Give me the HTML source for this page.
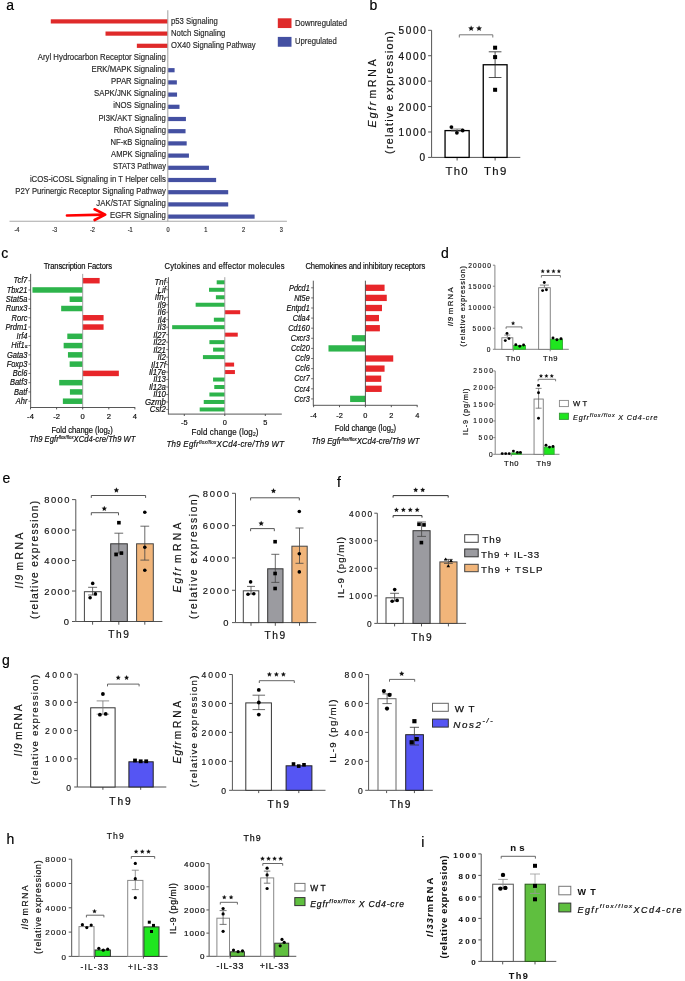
<!DOCTYPE html>
<html><head><meta charset="utf-8"><style>
html,body{margin:0;padding:0;background:#fff;}
svg{display:block;font-family:"Liberation Sans", sans-serif;filter:blur(0.3px);}
</style></head><body>
<svg width="685" height="981" viewBox="0 0 685 981">
<rect width="685" height="981" fill="#fff"/>
<text x="6.20" y="10.00" font-size="14" fill="#000" stroke="#000" stroke-width="0.18">a</text>
<rect x="50.78" y="19.30" width="117.03" height="4.20" fill="#df2a2a"/>
<text x="194.32" y="24.10" font-size="9.0" textLength="53.07" lengthAdjust="spacingAndGlyphs" fill="#2a2a2a" transform="scale(0.88,1)" stroke="#2a2a2a" stroke-width="0.18">p53 Signaling</text>
<rect x="105.51" y="31.50" width="62.29" height="4.20" fill="#df2a2a"/>
<text x="194.32" y="36.30" font-size="9.0" textLength="61.70" lengthAdjust="spacingAndGlyphs" fill="#2a2a2a" transform="scale(0.88,1)" stroke="#2a2a2a" stroke-width="0.18">Notch Signaling</text>
<rect x="136.85" y="43.70" width="30.95" height="4.20" fill="#df2a2a"/>
<text x="194.32" y="48.50" font-size="9.0" textLength="96.25" lengthAdjust="spacingAndGlyphs" fill="#2a2a2a" transform="scale(0.88,1)" stroke="#2a2a2a" stroke-width="0.18">OX40 Signaling Pathway</text>
<text x="188.52" y="59.60" font-size="9.0" text-anchor="end" textLength="145.57" lengthAdjust="spacingAndGlyphs" fill="#2a2a2a" transform="scale(0.88,1)" stroke="#2a2a2a" stroke-width="0.18">Aryl Hydrocarbon Receptor Signaling</text>
<rect x="167.80" y="68.10" width="6.79" height="4.20" fill="#4450a2"/>
<text x="188.52" y="71.80" font-size="9.0" text-anchor="end" textLength="84.55" lengthAdjust="spacingAndGlyphs" fill="#2a2a2a" transform="scale(0.88,1)" stroke="#2a2a2a" stroke-width="0.18">ERK/MAPK Signaling</text>
<rect x="167.80" y="80.30" width="9.06" height="4.20" fill="#4450a2"/>
<text x="188.52" y="84.00" font-size="9.0" text-anchor="end" textLength="62.27" lengthAdjust="spacingAndGlyphs" fill="#2a2a2a" transform="scale(0.88,1)" stroke="#2a2a2a" stroke-width="0.18">PPAR Signaling</text>
<rect x="167.80" y="92.50" width="9.25" height="4.20" fill="#4450a2"/>
<text x="188.52" y="96.20" font-size="9.0" text-anchor="end" textLength="81.70" lengthAdjust="spacingAndGlyphs" fill="#2a2a2a" transform="scale(0.88,1)" stroke="#2a2a2a" stroke-width="0.18">SAPK/JNK Signaling</text>
<rect x="167.80" y="104.70" width="11.70" height="4.20" fill="#4450a2"/>
<text x="188.52" y="108.40" font-size="9.0" text-anchor="end" textLength="59.89" lengthAdjust="spacingAndGlyphs" fill="#2a2a2a" transform="scale(0.88,1)" stroke="#2a2a2a" stroke-width="0.18">iNOS Signaling</text>
<rect x="167.80" y="116.90" width="18.12" height="4.20" fill="#4450a2"/>
<text x="188.52" y="120.60" font-size="9.0" text-anchor="end" textLength="76.70" lengthAdjust="spacingAndGlyphs" fill="#2a2a2a" transform="scale(0.88,1)" stroke="#2a2a2a" stroke-width="0.18">PI3K/AKT Signaling</text>
<rect x="167.80" y="129.10" width="17.74" height="4.20" fill="#4450a2"/>
<text x="188.52" y="132.80" font-size="9.0" text-anchor="end" textLength="59.32" lengthAdjust="spacingAndGlyphs" fill="#2a2a2a" transform="scale(0.88,1)" stroke="#2a2a2a" stroke-width="0.18">RhoA Signaling</text>
<rect x="167.80" y="141.30" width="18.88" height="4.20" fill="#4450a2"/>
<text x="188.52" y="145.00" font-size="9.0" text-anchor="end" textLength="62.84" lengthAdjust="spacingAndGlyphs" fill="#2a2a2a" transform="scale(0.88,1)" stroke="#2a2a2a" stroke-width="0.18">NF-κB Signaling</text>
<rect x="167.80" y="153.50" width="21.14" height="4.20" fill="#4450a2"/>
<text x="188.52" y="157.20" font-size="9.0" text-anchor="end" textLength="62.27" lengthAdjust="spacingAndGlyphs" fill="#2a2a2a" transform="scale(0.88,1)" stroke="#2a2a2a" stroke-width="0.18">AMPK Signaling</text>
<rect x="167.80" y="165.70" width="41.15" height="4.20" fill="#4450a2"/>
<text x="188.52" y="169.40" font-size="9.0" text-anchor="end" textLength="60.23" lengthAdjust="spacingAndGlyphs" fill="#2a2a2a" transform="scale(0.88,1)" stroke="#2a2a2a" stroke-width="0.18">STAT3 Pathway</text>
<rect x="167.80" y="177.90" width="48.32" height="4.20" fill="#4450a2"/>
<text x="188.52" y="181.60" font-size="9.0" text-anchor="end" textLength="154.55" lengthAdjust="spacingAndGlyphs" fill="#2a2a2a" transform="scale(0.88,1)" stroke="#2a2a2a" stroke-width="0.18">iCOS-iCOSL Signaling in T Helper cells</text>
<rect x="167.80" y="190.10" width="60.40" height="4.20" fill="#4450a2"/>
<text x="188.52" y="193.80" font-size="9.0" text-anchor="end" textLength="171.14" lengthAdjust="spacingAndGlyphs" fill="#2a2a2a" transform="scale(0.88,1)" stroke="#2a2a2a" stroke-width="0.18">P2Y Purinergic Receptor Signaling Pathway</text>
<rect x="167.80" y="202.30" width="60.40" height="4.20" fill="#4450a2"/>
<text x="188.52" y="206.00" font-size="9.0" text-anchor="end" textLength="79.09" lengthAdjust="spacingAndGlyphs" fill="#2a2a2a" transform="scale(0.88,1)" stroke="#2a2a2a" stroke-width="0.18">JAK/STAT Signaling</text>
<rect x="167.80" y="214.50" width="86.82" height="4.20" fill="#4450a2"/>
<text x="188.52" y="218.20" font-size="9.0" text-anchor="end" textLength="63.41" lengthAdjust="spacingAndGlyphs" fill="#2a2a2a" transform="scale(0.88,1)" stroke="#2a2a2a" stroke-width="0.18">EGFR Signaling</text>
<line x1="167.80" y1="10.20" x2="167.80" y2="221.60" stroke="#a8a8a8" stroke-width="1.1"/>
<line x1="9.50" y1="221.30" x2="286.90" y2="221.30" stroke="#a8a8a8" stroke-width="1.1"/>
<text x="19.32" y="232.10" font-size="6.4" text-anchor="middle" fill="#2a2a2a" transform="scale(0.88,1)" stroke="#2a2a2a" stroke-width="0.18">-4</text>
<text x="62.22" y="232.10" font-size="6.4" text-anchor="middle" fill="#2a2a2a" transform="scale(0.88,1)" stroke="#2a2a2a" stroke-width="0.18">-3</text>
<text x="105.11" y="232.10" font-size="6.4" text-anchor="middle" fill="#2a2a2a" transform="scale(0.88,1)" stroke="#2a2a2a" stroke-width="0.18">-2</text>
<text x="148.01" y="232.10" font-size="6.4" text-anchor="middle" fill="#2a2a2a" transform="scale(0.88,1)" stroke="#2a2a2a" stroke-width="0.18">-1</text>
<text x="190.91" y="232.10" font-size="6.4" text-anchor="middle" fill="#2a2a2a" transform="scale(0.88,1)" stroke="#2a2a2a" stroke-width="0.18">0</text>
<text x="233.81" y="232.10" font-size="6.4" text-anchor="middle" fill="#2a2a2a" transform="scale(0.88,1)" stroke="#2a2a2a" stroke-width="0.18">1</text>
<text x="276.70" y="232.10" font-size="6.4" text-anchor="middle" fill="#2a2a2a" transform="scale(0.88,1)" stroke="#2a2a2a" stroke-width="0.18">2</text>
<text x="319.60" y="232.10" font-size="6.4" text-anchor="middle" fill="#2a2a2a" transform="scale(0.88,1)" stroke="#2a2a2a" stroke-width="0.18">3</text>
<rect x="277.80" y="18.30" width="13.70" height="9.75" fill="#df2a2a"/>
<rect x="277.80" y="36.90" width="13.70" height="9.85" fill="#4450a2"/>
<text x="335.23" y="25.90" font-size="9.0" textLength="59.20" lengthAdjust="spacingAndGlyphs" fill="#2a2a2a" transform="scale(0.88,1)" stroke="#2a2a2a" stroke-width="0.18">Downregulated</text>
<text x="335.23" y="43.90" font-size="9.0" textLength="47.61" lengthAdjust="spacingAndGlyphs" fill="#2a2a2a" transform="scale(0.88,1)" stroke="#2a2a2a" stroke-width="0.18">Upregulated</text>
<path d="M67,215.5 L104,214.6" stroke="#f00" stroke-width="2.7" fill="none" stroke-linecap="round"/>
<path d="M94.6,209.3 L105.2,214.6 L94.6,220" stroke="#f00" stroke-width="2.7" fill="none" stroke-linecap="round" stroke-linejoin="round"/>
<text x="369.40" y="9.90" font-size="14" fill="#000" stroke="#000" stroke-width="0.18">b</text>
<line x1="431.60" y1="30.30" x2="431.60" y2="157.40" stroke="#555" stroke-width="1"/>
<line x1="428.10" y1="157.40" x2="431.60" y2="157.40" stroke="#555" stroke-width="1"/>
<text x="419.60" y="161.40" font-size="10.0" textLength="6.10" lengthAdjust="spacing" fill="#111" stroke-width="0.22" stroke="#111">0</text>
<line x1="428.10" y1="131.98" x2="431.60" y2="131.98" stroke="#555" stroke-width="1"/>
<text x="398.50" y="135.98" font-size="10.0" textLength="27.20" lengthAdjust="spacing" fill="#111" stroke-width="0.22" stroke="#111">1000</text>
<line x1="428.10" y1="106.56" x2="431.60" y2="106.56" stroke="#555" stroke-width="1"/>
<text x="398.50" y="110.56" font-size="10.0" textLength="27.20" lengthAdjust="spacing" fill="#111" stroke-width="0.22" stroke="#111">2000</text>
<line x1="428.10" y1="81.14" x2="431.60" y2="81.14" stroke="#555" stroke-width="1"/>
<text x="398.50" y="85.14" font-size="10.0" textLength="27.20" lengthAdjust="spacing" fill="#111" stroke-width="0.22" stroke="#111">3000</text>
<line x1="428.10" y1="55.72" x2="431.60" y2="55.72" stroke="#555" stroke-width="1"/>
<text x="398.50" y="59.72" font-size="10.0" textLength="27.20" lengthAdjust="spacing" fill="#111" stroke-width="0.22" stroke="#111">4000</text>
<line x1="428.10" y1="30.30" x2="431.60" y2="30.30" stroke="#555" stroke-width="1"/>
<text x="398.50" y="34.30" font-size="10.0" textLength="27.20" lengthAdjust="spacing" fill="#111" stroke-width="0.22" stroke="#111">5000</text>
<line x1="431.60" y1="157.40" x2="520.30" y2="157.40" stroke="#555" stroke-width="1"/>
<line x1="457.10" y1="157.40" x2="457.10" y2="160.50" stroke="#555" stroke-width="1"/>
<line x1="495.10" y1="157.40" x2="495.10" y2="160.50" stroke="#555" stroke-width="1"/>
<rect x="445.05" y="130.60" width="24.10" height="26.80" fill="#fff" stroke="#000" stroke-width="1.3"/>
<rect x="483.25" y="64.76" width="23.80" height="92.64" fill="#fff" stroke="#000" stroke-width="1.3"/>
<line x1="457.10" y1="129.00" x2="457.10" y2="131.00" stroke="#666" stroke-width="0.8"/>
<line x1="451.10" y1="129.00" x2="463.10" y2="129.00" stroke="#666" stroke-width="0.8"/>
<line x1="451.10" y1="131.00" x2="463.10" y2="131.00" stroke="#666" stroke-width="0.8"/>
<circle cx="451.40" cy="127.10" r="1.9" fill="#000"/>
<circle cx="456.90" cy="132.80" r="1.9" fill="#000"/>
<circle cx="462.70" cy="130.50" r="1.9" fill="#000"/>
<line x1="495.10" y1="51.80" x2="495.10" y2="77.50" stroke="#222" stroke-width="0.8"/>
<line x1="488.75" y1="51.80" x2="501.45" y2="51.80" stroke="#222" stroke-width="0.8"/>
<line x1="488.75" y1="77.50" x2="501.45" y2="77.50" stroke="#222" stroke-width="0.8"/>
<rect x="493.10" y="45.70" width="4.0" height="4.0" fill="#000"/>
<rect x="493.10" y="55.10" width="4.0" height="4.0" fill="#000"/>
<rect x="493.10" y="87.80" width="4.0" height="4.0" fill="#000"/>
<path d="M459.30,37.50 L459.30,34.80 L492.80,34.80 L492.80,37.50" stroke="#777" stroke-width="1.0" fill="none"/>
<path d="M471.15,25.63 L471.96,27.38 L473.87,27.60 L472.46,28.91 L472.83,30.80 L471.15,29.86 L469.47,30.80 L469.84,28.91 L468.43,27.60 L470.34,27.38 Z M479.05,25.63 L479.86,27.38 L481.77,27.60 L480.36,28.91 L480.73,30.80 L479.05,29.86 L477.37,30.80 L477.74,28.91 L476.33,27.60 L478.24,27.38 Z " fill="#111" stroke="#111" stroke-width="0.15" stroke-linejoin="round"/>
<text x="445.42" y="174.60" font-size="11.4" textLength="22.17" lengthAdjust="spacing" fill="#111" stroke="#111" stroke-width="0.18">Th0</text>
<text x="484.12" y="174.60" font-size="11.4" textLength="22.17" lengthAdjust="spacing" fill="#111" stroke="#111" stroke-width="0.18">Th9</text>
<text x="0" y="0" font-size="10.58" textLength="25.47" lengthAdjust="spacing" font-style="italic" fill="#111" transform="translate(375.80 127.43) rotate(-90) scale(1.0 1)" stroke="#111" stroke-width="0.18">Egfr</text>
<text x="0" y="0" font-size="10.37" textLength="39.24" lengthAdjust="spacing" fill="#111" transform="translate(375.80 98.62) rotate(-90) scale(1.0 1)" stroke="#111" stroke-width="0.18">mRNA</text>
<text x="0" y="0" font-size="10.8" textLength="122.50" lengthAdjust="spacing" fill="#111" transform="translate(392.50 153.95) rotate(-90) scale(1.0 1)" stroke="#111" stroke-width="0.18">(relative expression)</text>
<text x="1.20" y="257.60" font-size="14" fill="#000" stroke="#000" stroke-width="0.18">c</text>
<text x="49.59" y="269.20" font-size="8.69" textLength="77.63" lengthAdjust="spacing" transform="scale(0.88,1)" stroke="#222" stroke-width="0.18">Transcription Factors</text>
<rect x="82.70" y="277.95" width="16.96" height="5.50" fill="#e8262a"/>
<line x1="28.45" y1="280.70" x2="30.65" y2="280.70" stroke="#555" stroke-width="0.8"/>
<text x="31.14" y="283.50" font-size="8.5" text-anchor="end" font-style="italic" transform="scale(0.88,1)" stroke="#222" stroke-width="0.18">Tcf7</text>
<rect x="32.46" y="287.22" width="50.24" height="5.50" fill="#2db44b"/>
<line x1="28.45" y1="289.97" x2="30.65" y2="289.97" stroke="#555" stroke-width="0.8"/>
<text x="31.14" y="292.77" font-size="8.5" text-anchor="end" font-style="italic" transform="scale(0.88,1)" stroke="#222" stroke-width="0.18">Tbx21</text>
<rect x="69.65" y="296.49" width="13.05" height="5.50" fill="#2db44b"/>
<line x1="28.45" y1="299.24" x2="30.65" y2="299.24" stroke="#555" stroke-width="0.8"/>
<text x="31.14" y="302.05" font-size="8.5" text-anchor="end" font-style="italic" transform="scale(0.88,1)" stroke="#222" stroke-width="0.18">Stat5a</text>
<rect x="61.17" y="305.76" width="21.53" height="5.50" fill="#2db44b"/>
<line x1="28.45" y1="308.51" x2="30.65" y2="308.51" stroke="#555" stroke-width="0.8"/>
<text x="31.14" y="311.31" font-size="8.5" text-anchor="end" font-style="italic" transform="scale(0.88,1)" stroke="#222" stroke-width="0.18">Runx3</text>
<rect x="82.70" y="315.03" width="20.88" height="5.50" fill="#e8262a"/>
<line x1="28.45" y1="317.78" x2="30.65" y2="317.78" stroke="#555" stroke-width="0.8"/>
<text x="31.14" y="320.58" font-size="8.5" text-anchor="end" font-style="italic" transform="scale(0.88,1)" stroke="#222" stroke-width="0.18">Rorc</text>
<rect x="82.70" y="324.30" width="20.88" height="5.50" fill="#e8262a"/>
<line x1="28.45" y1="327.05" x2="30.65" y2="327.05" stroke="#555" stroke-width="0.8"/>
<text x="31.14" y="329.85" font-size="8.5" text-anchor="end" font-style="italic" transform="scale(0.88,1)" stroke="#222" stroke-width="0.18">Prdm1</text>
<rect x="67.30" y="333.57" width="15.40" height="5.50" fill="#2db44b"/>
<line x1="28.45" y1="336.32" x2="30.65" y2="336.32" stroke="#555" stroke-width="0.8"/>
<text x="31.14" y="339.12" font-size="8.5" text-anchor="end" font-style="italic" transform="scale(0.88,1)" stroke="#222" stroke-width="0.18">Irf4</text>
<rect x="63.65" y="342.84" width="19.05" height="5.50" fill="#2db44b"/>
<line x1="28.45" y1="345.59" x2="30.65" y2="345.59" stroke="#555" stroke-width="0.8"/>
<text x="31.14" y="348.39" font-size="8.5" text-anchor="end" font-style="italic" transform="scale(0.88,1)" stroke="#222" stroke-width="0.18">Hif1<tspan font-style="normal" font-family="Liberation Serif" font-size="6">α</tspan></text>
<rect x="67.95" y="352.11" width="14.75" height="5.50" fill="#2db44b"/>
<line x1="28.45" y1="354.86" x2="30.65" y2="354.86" stroke="#555" stroke-width="0.8"/>
<text x="31.14" y="357.67" font-size="8.5" text-anchor="end" font-style="italic" transform="scale(0.88,1)" stroke="#222" stroke-width="0.18">Gata3</text>
<rect x="69.65" y="361.38" width="13.05" height="5.50" fill="#2db44b"/>
<line x1="28.45" y1="364.13" x2="30.65" y2="364.13" stroke="#555" stroke-width="0.8"/>
<text x="31.14" y="366.94" font-size="8.5" text-anchor="end" font-style="italic" transform="scale(0.88,1)" stroke="#222" stroke-width="0.18">Foxp3</text>
<rect x="82.70" y="370.65" width="36.15" height="5.50" fill="#e8262a"/>
<line x1="28.45" y1="373.40" x2="30.65" y2="373.40" stroke="#555" stroke-width="0.8"/>
<text x="31.14" y="376.20" font-size="8.5" text-anchor="end" font-style="italic" transform="scale(0.88,1)" stroke="#222" stroke-width="0.18">Bcl6</text>
<rect x="59.21" y="379.92" width="23.49" height="5.50" fill="#2db44b"/>
<line x1="28.45" y1="382.67" x2="30.65" y2="382.67" stroke="#555" stroke-width="0.8"/>
<text x="31.14" y="385.47" font-size="8.5" text-anchor="end" font-style="italic" transform="scale(0.88,1)" stroke="#222" stroke-width="0.18">Batf3</text>
<rect x="69.91" y="389.19" width="12.79" height="5.50" fill="#2db44b"/>
<line x1="28.45" y1="391.94" x2="30.65" y2="391.94" stroke="#555" stroke-width="0.8"/>
<text x="31.14" y="394.75" font-size="8.5" text-anchor="end" font-style="italic" transform="scale(0.88,1)" stroke="#222" stroke-width="0.18">Batf</text>
<rect x="62.86" y="398.46" width="19.84" height="5.50" fill="#2db44b"/>
<line x1="28.45" y1="401.21" x2="30.65" y2="401.21" stroke="#555" stroke-width="0.8"/>
<text x="31.14" y="404.01" font-size="8.5" text-anchor="end" font-style="italic" transform="scale(0.88,1)" stroke="#222" stroke-width="0.18">Ahr</text>
<line x1="82.70" y1="273.90" x2="82.70" y2="407.50" stroke="#9a9a9a" stroke-width="0.9"/>
<line x1="30.65" y1="273.90" x2="30.65" y2="407.90" stroke="#444" stroke-width="0.9"/>
<line x1="30.65" y1="407.50" x2="135.20" y2="407.50" stroke="#444" stroke-width="0.9"/>
<line x1="30.50" y1="407.50" x2="30.50" y2="409.40" stroke="#444" stroke-width="0.9"/>
<text x="30.50" y="418.90" font-size="7.6" text-anchor="middle" stroke="#222" stroke-width="0.18">-4</text>
<line x1="56.60" y1="407.50" x2="56.60" y2="409.40" stroke="#444" stroke-width="0.9"/>
<text x="56.60" y="418.90" font-size="7.6" text-anchor="middle" stroke="#222" stroke-width="0.18">-2</text>
<line x1="82.70" y1="407.50" x2="82.70" y2="409.40" stroke="#444" stroke-width="0.9"/>
<text x="82.70" y="418.90" font-size="7.6" text-anchor="middle" stroke="#222" stroke-width="0.18">0</text>
<line x1="108.80" y1="407.50" x2="108.80" y2="409.40" stroke="#444" stroke-width="0.9"/>
<text x="108.80" y="418.90" font-size="7.6" text-anchor="middle" stroke="#222" stroke-width="0.18">2</text>
<line x1="134.90" y1="407.50" x2="134.90" y2="409.40" stroke="#444" stroke-width="0.9"/>
<text x="134.90" y="418.90" font-size="7.6" text-anchor="middle" stroke="#222" stroke-width="0.18">4</text>
<text x="58.46" y="432.60" font-size="8.69" textLength="69.68" lengthAdjust="spacing" transform="scale(0.88,1)" stroke="#222" stroke-width="0.18">Fold change (log<tspan font-size="5.4" dy="1.6">2</tspan><tspan dy="-1.6">)</tspan></text>
<text x="33.23" y="442.30" font-size="8.69" font-style="italic" textLength="120.70" lengthAdjust="spacing" transform="scale(0.88,1)" stroke="#222" stroke-width="0.18">Th9 Egfr<tspan font-size="4.9" dy="-3">flox/flox</tspan><tspan dy="3">XCd4-cre/Th9 WT</tspan></text>
<text x="186.98" y="269.00" font-size="8.69" textLength="136.50" lengthAdjust="spacing" transform="scale(0.88,1)" stroke="#222" stroke-width="0.18">Cytokines and effector molecules</text>
<rect x="216.70" y="280.30" width="8.10" height="4.00" fill="#2db44b"/>
<line x1="166.20" y1="282.30" x2="168.40" y2="282.30" stroke="#555" stroke-width="0.8"/>
<text x="188.52" y="285.24" font-size="8.9" text-anchor="end" font-style="italic" transform="scale(0.88,1)" stroke="#222" stroke-width="0.18">Tnf</text>
<rect x="209.01" y="287.78" width="15.79" height="4.00" fill="#2db44b"/>
<line x1="166.20" y1="289.78" x2="168.40" y2="289.78" stroke="#555" stroke-width="0.8"/>
<text x="188.52" y="292.72" font-size="8.9" text-anchor="end" font-style="italic" transform="scale(0.88,1)" stroke="#222" stroke-width="0.18">Lif</text>
<rect x="215.89" y="295.26" width="8.91" height="4.00" fill="#2db44b"/>
<line x1="166.20" y1="297.26" x2="168.40" y2="297.26" stroke="#555" stroke-width="0.8"/>
<text x="188.52" y="300.20" font-size="8.9" text-anchor="end" font-style="italic" transform="scale(0.88,1)" stroke="#222" stroke-width="0.18">Ifn<tspan font-style="normal" font-family="Liberation Serif" font-size="6">γ</tspan></text>
<rect x="195.64" y="302.74" width="29.16" height="4.00" fill="#2db44b"/>
<line x1="166.20" y1="304.74" x2="168.40" y2="304.74" stroke="#555" stroke-width="0.8"/>
<text x="188.52" y="307.68" font-size="8.9" text-anchor="end" font-style="italic" transform="scale(0.88,1)" stroke="#222" stroke-width="0.18">Il9</text>
<rect x="224.80" y="310.22" width="15.39" height="4.00" fill="#e8262a"/>
<line x1="166.20" y1="312.22" x2="168.40" y2="312.22" stroke="#555" stroke-width="0.8"/>
<text x="188.52" y="315.16" font-size="8.9" text-anchor="end" font-style="italic" transform="scale(0.88,1)" stroke="#222" stroke-width="0.18">Il6</text>
<rect x="213.87" y="317.70" width="10.94" height="4.00" fill="#2db44b"/>
<line x1="166.20" y1="319.70" x2="168.40" y2="319.70" stroke="#555" stroke-width="0.8"/>
<text x="188.52" y="322.64" font-size="8.9" text-anchor="end" font-style="italic" transform="scale(0.88,1)" stroke="#222" stroke-width="0.18">Il4</text>
<rect x="172.15" y="325.18" width="52.65" height="4.00" fill="#2db44b"/>
<line x1="166.20" y1="327.18" x2="168.40" y2="327.18" stroke="#555" stroke-width="0.8"/>
<text x="188.52" y="330.12" font-size="8.9" text-anchor="end" font-style="italic" transform="scale(0.88,1)" stroke="#222" stroke-width="0.18">Il3</text>
<rect x="224.80" y="332.66" width="12.96" height="4.00" fill="#e8262a"/>
<line x1="166.20" y1="334.66" x2="168.40" y2="334.66" stroke="#555" stroke-width="0.8"/>
<text x="188.52" y="337.60" font-size="8.9" text-anchor="end" font-style="italic" transform="scale(0.88,1)" stroke="#222" stroke-width="0.18">Il27</text>
<rect x="209.41" y="340.14" width="15.39" height="4.00" fill="#2db44b"/>
<line x1="166.20" y1="342.14" x2="168.40" y2="342.14" stroke="#555" stroke-width="0.8"/>
<text x="188.52" y="345.08" font-size="8.9" text-anchor="end" font-style="italic" transform="scale(0.88,1)" stroke="#222" stroke-width="0.18">Il22</text>
<rect x="213.06" y="347.62" width="11.74" height="4.00" fill="#2db44b"/>
<line x1="166.20" y1="349.62" x2="168.40" y2="349.62" stroke="#555" stroke-width="0.8"/>
<text x="188.52" y="352.56" font-size="8.9" text-anchor="end" font-style="italic" transform="scale(0.88,1)" stroke="#222" stroke-width="0.18">Il21</text>
<rect x="202.93" y="355.10" width="21.87" height="4.00" fill="#2db44b"/>
<line x1="166.20" y1="357.10" x2="168.40" y2="357.10" stroke="#555" stroke-width="0.8"/>
<text x="188.52" y="360.04" font-size="8.9" text-anchor="end" font-style="italic" transform="scale(0.88,1)" stroke="#222" stroke-width="0.18">Il2</text>
<rect x="224.80" y="362.58" width="9.31" height="4.00" fill="#e8262a"/>
<line x1="166.20" y1="364.58" x2="168.40" y2="364.58" stroke="#555" stroke-width="0.8"/>
<text x="188.52" y="367.52" font-size="8.9" text-anchor="end" font-style="italic" transform="scale(0.88,1)" stroke="#222" stroke-width="0.18">Il17f</text>
<rect x="224.80" y="370.06" width="10.12" height="4.00" fill="#e8262a"/>
<line x1="166.20" y1="372.06" x2="168.40" y2="372.06" stroke="#555" stroke-width="0.8"/>
<text x="188.52" y="375.00" font-size="8.9" text-anchor="end" font-style="italic" transform="scale(0.88,1)" stroke="#222" stroke-width="0.18">Il17e</text>
<rect x="213.06" y="377.54" width="11.74" height="4.00" fill="#2db44b"/>
<line x1="166.20" y1="379.54" x2="168.40" y2="379.54" stroke="#555" stroke-width="0.8"/>
<text x="188.52" y="382.48" font-size="8.9" text-anchor="end" font-style="italic" transform="scale(0.88,1)" stroke="#222" stroke-width="0.18">Il13</text>
<rect x="214.27" y="385.02" width="10.53" height="4.00" fill="#2db44b"/>
<line x1="166.20" y1="387.02" x2="168.40" y2="387.02" stroke="#555" stroke-width="0.8"/>
<text x="188.52" y="389.96" font-size="8.9" text-anchor="end" font-style="italic" transform="scale(0.88,1)" stroke="#222" stroke-width="0.18">Il12a</text>
<rect x="209.41" y="392.50" width="15.39" height="4.00" fill="#2db44b"/>
<line x1="166.20" y1="394.50" x2="168.40" y2="394.50" stroke="#555" stroke-width="0.8"/>
<text x="188.52" y="397.44" font-size="8.9" text-anchor="end" font-style="italic" transform="scale(0.88,1)" stroke="#222" stroke-width="0.18">Il10</text>
<rect x="203.74" y="399.98" width="21.06" height="4.00" fill="#2db44b"/>
<line x1="166.20" y1="401.98" x2="168.40" y2="401.98" stroke="#555" stroke-width="0.8"/>
<text x="188.52" y="404.92" font-size="8.9" text-anchor="end" font-style="italic" transform="scale(0.88,1)" stroke="#222" stroke-width="0.18">Gzmb</text>
<rect x="199.69" y="407.46" width="25.11" height="4.00" fill="#2db44b"/>
<line x1="166.20" y1="409.46" x2="168.40" y2="409.46" stroke="#555" stroke-width="0.8"/>
<text x="188.52" y="412.40" font-size="8.9" text-anchor="end" font-style="italic" transform="scale(0.88,1)" stroke="#222" stroke-width="0.18">Csf2</text>
<line x1="224.80" y1="277.20" x2="224.80" y2="414.10" stroke="#9a9a9a" stroke-width="0.9"/>
<line x1="168.40" y1="277.20" x2="168.40" y2="414.50" stroke="#444" stroke-width="0.9"/>
<line x1="168.40" y1="414.10" x2="281.80" y2="414.10" stroke="#444" stroke-width="0.9"/>
<line x1="184.30" y1="414.10" x2="184.30" y2="416.00" stroke="#444" stroke-width="0.9"/>
<text x="184.30" y="425.40" font-size="7.4" text-anchor="middle" stroke="#222" stroke-width="0.18">-5</text>
<line x1="224.80" y1="414.10" x2="224.80" y2="416.00" stroke="#444" stroke-width="0.9"/>
<text x="224.80" y="425.40" font-size="7.4" text-anchor="middle" stroke="#222" stroke-width="0.18">0</text>
<line x1="265.30" y1="414.10" x2="265.30" y2="416.00" stroke="#444" stroke-width="0.9"/>
<text x="265.30" y="425.40" font-size="7.4" text-anchor="middle" stroke="#222" stroke-width="0.18">5</text>
<text x="217.53" y="434.90" font-size="9.02" textLength="76.20" lengthAdjust="spacing" transform="scale(0.88,1)" stroke="#222" stroke-width="0.18">Fold change (log<tspan font-size="5.6" dy="1.6">2</tspan><tspan dy="-1.6">)</tspan></text>
<text x="189.12" y="447.20" font-size="9.02" font-style="italic" textLength="133.81" lengthAdjust="spacing" transform="scale(0.88,1)" stroke="#222" stroke-width="0.18">Th9 Egfr<tspan font-size="5.1" dy="-3">flox/flox</tspan><tspan dy="3">XCd4-cre/Th9 WT</tspan></text>
<text x="347.09" y="269.20" font-size="8.69" textLength="136.16" lengthAdjust="spacing" transform="scale(0.88,1)" stroke="#222" stroke-width="0.18">Chemokines and inhibitory receptors</text>
<rect x="365.40" y="284.65" width="19.17" height="6.30" fill="#e8262a"/>
<line x1="311.10" y1="287.80" x2="313.30" y2="287.80" stroke="#555" stroke-width="0.8"/>
<text x="351.93" y="290.54" font-size="8.3" text-anchor="end" font-style="italic" transform="scale(0.88,1)" stroke="#222" stroke-width="0.18">Pdcd1</text>
<rect x="365.40" y="294.75" width="21.37" height="6.30" fill="#e8262a"/>
<line x1="311.10" y1="297.90" x2="313.30" y2="297.90" stroke="#555" stroke-width="0.8"/>
<text x="351.93" y="300.64" font-size="8.3" text-anchor="end" font-style="italic" transform="scale(0.88,1)" stroke="#222" stroke-width="0.18">Nt5e</text>
<rect x="365.40" y="304.85" width="16.58" height="6.30" fill="#e8262a"/>
<line x1="311.10" y1="308.00" x2="313.30" y2="308.00" stroke="#555" stroke-width="0.8"/>
<text x="351.93" y="310.74" font-size="8.3" text-anchor="end" font-style="italic" transform="scale(0.88,1)" stroke="#222" stroke-width="0.18">Entpd1</text>
<rect x="365.40" y="314.95" width="13.60" height="6.30" fill="#e8262a"/>
<line x1="311.10" y1="318.10" x2="313.30" y2="318.10" stroke="#555" stroke-width="0.8"/>
<text x="351.93" y="320.84" font-size="8.3" text-anchor="end" font-style="italic" transform="scale(0.88,1)" stroke="#222" stroke-width="0.18">Ctla4</text>
<rect x="365.40" y="325.05" width="14.50" height="6.30" fill="#e8262a"/>
<line x1="311.10" y1="328.20" x2="313.30" y2="328.20" stroke="#555" stroke-width="0.8"/>
<text x="351.93" y="330.94" font-size="8.3" text-anchor="end" font-style="italic" transform="scale(0.88,1)" stroke="#222" stroke-width="0.18">Cd160</text>
<rect x="351.80" y="335.15" width="13.60" height="6.30" fill="#2db44b"/>
<line x1="311.10" y1="338.30" x2="313.30" y2="338.30" stroke="#555" stroke-width="0.8"/>
<text x="351.93" y="341.04" font-size="8.3" text-anchor="end" font-style="italic" transform="scale(0.88,1)" stroke="#222" stroke-width="0.18">Cxcr3</text>
<rect x="328.49" y="345.25" width="36.91" height="6.30" fill="#2db44b"/>
<line x1="311.10" y1="348.40" x2="313.30" y2="348.40" stroke="#555" stroke-width="0.8"/>
<text x="351.93" y="351.14" font-size="8.3" text-anchor="end" font-style="italic" transform="scale(0.88,1)" stroke="#222" stroke-width="0.18">Ccl20</text>
<rect x="365.40" y="355.35" width="27.84" height="6.30" fill="#e8262a"/>
<line x1="311.10" y1="358.50" x2="313.30" y2="358.50" stroke="#555" stroke-width="0.8"/>
<text x="351.93" y="361.24" font-size="8.3" text-anchor="end" font-style="italic" transform="scale(0.88,1)" stroke="#222" stroke-width="0.18">Ccl9</text>
<rect x="365.40" y="365.45" width="19.17" height="6.30" fill="#e8262a"/>
<line x1="311.10" y1="368.60" x2="313.30" y2="368.60" stroke="#555" stroke-width="0.8"/>
<text x="351.93" y="371.34" font-size="8.3" text-anchor="end" font-style="italic" transform="scale(0.88,1)" stroke="#222" stroke-width="0.18">Ccl6</text>
<rect x="365.40" y="375.55" width="15.80" height="6.30" fill="#e8262a"/>
<line x1="311.10" y1="378.70" x2="313.30" y2="378.70" stroke="#555" stroke-width="0.8"/>
<text x="351.93" y="381.44" font-size="8.3" text-anchor="end" font-style="italic" transform="scale(0.88,1)" stroke="#222" stroke-width="0.18">Ccr7</text>
<rect x="365.40" y="385.65" width="16.32" height="6.30" fill="#e8262a"/>
<line x1="311.10" y1="388.80" x2="313.30" y2="388.80" stroke="#555" stroke-width="0.8"/>
<text x="351.93" y="391.54" font-size="8.3" text-anchor="end" font-style="italic" transform="scale(0.88,1)" stroke="#222" stroke-width="0.18">Ccr4</text>
<rect x="350.12" y="395.75" width="15.28" height="6.30" fill="#2db44b"/>
<line x1="311.10" y1="398.90" x2="313.30" y2="398.90" stroke="#555" stroke-width="0.8"/>
<text x="351.93" y="401.64" font-size="8.3" text-anchor="end" font-style="italic" transform="scale(0.88,1)" stroke="#222" stroke-width="0.18">Ccr3</text>
<line x1="365.40" y1="280.70" x2="365.40" y2="405.30" stroke="#444" stroke-width="0.9"/>
<line x1="313.30" y1="280.70" x2="313.30" y2="405.70" stroke="#444" stroke-width="0.9"/>
<line x1="313.30" y1="405.30" x2="417.50" y2="405.30" stroke="#444" stroke-width="0.9"/>
<line x1="313.60" y1="405.30" x2="313.60" y2="407.20" stroke="#444" stroke-width="0.9"/>
<text x="313.60" y="418.00" font-size="7.4" text-anchor="middle" stroke="#222" stroke-width="0.18">-4</text>
<line x1="339.50" y1="405.30" x2="339.50" y2="407.20" stroke="#444" stroke-width="0.9"/>
<text x="339.50" y="418.00" font-size="7.4" text-anchor="middle" stroke="#222" stroke-width="0.18">-2</text>
<line x1="365.40" y1="405.30" x2="365.40" y2="407.20" stroke="#444" stroke-width="0.9"/>
<text x="365.40" y="418.00" font-size="7.4" text-anchor="middle" stroke="#222" stroke-width="0.18">0</text>
<line x1="391.30" y1="405.30" x2="391.30" y2="407.20" stroke="#444" stroke-width="0.9"/>
<text x="391.30" y="418.00" font-size="7.4" text-anchor="middle" stroke="#222" stroke-width="0.18">2</text>
<line x1="417.20" y1="405.30" x2="417.20" y2="407.20" stroke="#444" stroke-width="0.9"/>
<text x="417.20" y="418.00" font-size="7.4" text-anchor="middle" stroke="#222" stroke-width="0.18">4</text>
<text x="380.39" y="431.20" font-size="8.69" textLength="69.68" lengthAdjust="spacing" transform="scale(0.88,1)" stroke="#222" stroke-width="0.18">Fold change (log<tspan font-size="5.4" dy="1.6">2</tspan><tspan dy="-1.6">)</tspan></text>
<text x="354.02" y="443.60" font-size="8.8" font-style="italic" textLength="122.65" lengthAdjust="spacing" transform="scale(0.88,1)" stroke="#222" stroke-width="0.18">Th9 Egfr<tspan font-size="5.0" dy="-3">flox/flox</tspan><tspan dy="3">XCd4-cre/Th9 WT</tspan></text>
<text x="441.00" y="257.80" font-size="14" fill="#000" stroke="#000" stroke-width="0.18">d</text>
<line x1="494.90" y1="265.20" x2="494.90" y2="349.30" stroke="#777" stroke-width="0.9"/>
<line x1="492.90" y1="349.30" x2="494.90" y2="349.30" stroke="#777" stroke-width="0.9"/>
<text x="486.80" y="351.70" font-size="6.6" textLength="4.09" lengthAdjust="spacing" fill="#111" stroke-width="0.15" stroke="#111">0</text>
<line x1="492.90" y1="328.27" x2="494.90" y2="328.27" stroke="#777" stroke-width="0.9"/>
<text x="472.60" y="330.67" font-size="6.6" textLength="18.29" lengthAdjust="spacing" fill="#111" stroke-width="0.15" stroke="#111">5000</text>
<line x1="492.90" y1="307.25" x2="494.90" y2="307.25" stroke="#777" stroke-width="0.9"/>
<text x="468.30" y="309.65" font-size="6.6" textLength="22.59" lengthAdjust="spacing" fill="#111" stroke-width="0.15" stroke="#111">10000</text>
<line x1="492.90" y1="286.23" x2="494.90" y2="286.23" stroke="#777" stroke-width="0.9"/>
<text x="468.30" y="288.62" font-size="6.6" textLength="22.59" lengthAdjust="spacing" fill="#111" stroke-width="0.15" stroke="#111">15000</text>
<line x1="492.90" y1="265.20" x2="494.90" y2="265.20" stroke="#777" stroke-width="0.9"/>
<text x="468.30" y="267.60" font-size="6.6" textLength="22.59" lengthAdjust="spacing" fill="#111" stroke-width="0.15" stroke="#111">20000</text>
<line x1="494.90" y1="349.30" x2="568.80" y2="349.30" stroke="#777" stroke-width="0.9"/>
<line x1="513.30" y1="349.30" x2="513.30" y2="351.30" stroke="#777" stroke-width="0.9"/>
<line x1="550.20" y1="349.30" x2="550.20" y2="351.30" stroke="#777" stroke-width="0.9"/>
<rect x="501.85" y="337.77" width="11.00" height="11.53" fill="#fff" stroke="#777" stroke-width="0.9"/>
<rect x="513.75" y="345.55" width="11.80" height="3.75" fill="#1fe61f" stroke="#3a3" stroke-width="0.9"/>
<rect x="538.65" y="287.73" width="11.60" height="61.57" fill="#fff" stroke="#777" stroke-width="0.9"/>
<rect x="550.65" y="339.24" width="11.90" height="10.06" fill="#1fe61f" stroke="#3a3" stroke-width="0.9"/>
<line x1="507.30" y1="335.10" x2="507.30" y2="337.20" stroke="#555" stroke-width="0.7"/>
<line x1="504.30" y1="335.10" x2="510.30" y2="335.10" stroke="#555" stroke-width="0.7"/>
<line x1="544.40" y1="285.10" x2="544.40" y2="287.40" stroke="#555" stroke-width="0.7"/>
<line x1="539.90" y1="285.10" x2="548.90" y2="285.10" stroke="#555" stroke-width="0.7"/>
<circle cx="507.00" cy="333.40" r="1.45" fill="#000"/>
<circle cx="505.30" cy="340.60" r="1.45" fill="#000"/>
<circle cx="509.00" cy="338.60" r="1.45" fill="#000"/>
<circle cx="515.80" cy="344.80" r="1.45" fill="#000"/>
<circle cx="519.80" cy="346.20" r="1.45" fill="#000"/>
<circle cx="523.60" cy="345.00" r="1.45" fill="#000"/>
<circle cx="544.30" cy="282.50" r="1.45" fill="#000"/>
<circle cx="542.60" cy="290.60" r="1.45" fill="#000"/>
<circle cx="546.40" cy="289.80" r="1.45" fill="#000"/>
<circle cx="553.00" cy="338.00" r="1.45" fill="#000"/>
<circle cx="556.90" cy="339.80" r="1.45" fill="#000"/>
<circle cx="561.00" cy="338.80" r="1.45" fill="#000"/>
<path d="M506.10,328.80 L506.10,326.90 L521.90,326.90 L521.90,328.80" stroke="#555" stroke-width="0.8" fill="none"/>
<path d="M513.10,321.32 L513.66,322.53 L514.98,322.69 L514.00,323.59 L514.26,324.90 L513.10,324.25 L511.94,324.90 L512.20,323.59 L511.22,322.69 L512.54,322.53 Z " fill="#111" stroke="#111" stroke-width="0.15" stroke-linejoin="round"/>
<path d="M541.40,277.50 L541.40,275.50 L560.40,275.50 L560.40,277.50" stroke="#555" stroke-width="0.8" fill="none"/>
<path d="M542.70,269.32 L543.26,270.53 L544.58,270.69 L543.60,271.59 L543.86,272.90 L542.70,272.25 L541.54,272.90 L541.80,271.59 L540.82,270.69 L542.14,270.53 Z M548.10,269.32 L548.66,270.53 L549.98,270.69 L549.00,271.59 L549.26,272.90 L548.10,272.25 L546.94,272.90 L547.20,271.59 L546.22,270.69 L547.54,270.53 Z M553.50,269.32 L554.06,270.53 L555.38,270.69 L554.40,271.59 L554.66,272.90 L553.50,272.25 L552.34,272.90 L552.60,271.59 L551.62,270.69 L552.94,270.53 Z M558.90,269.32 L559.46,270.53 L560.78,270.69 L559.80,271.59 L560.06,272.90 L558.90,272.25 L557.74,272.90 L558.00,271.59 L557.02,270.69 L558.34,270.53 Z " fill="#111" stroke="#111" stroke-width="0.15" stroke-linejoin="round"/>
<text x="505.64" y="360.50" font-size="7.6" textLength="14.61" lengthAdjust="spacing" fill="#111" stroke="#111" stroke-width="0.18">Th0</text>
<text x="543.04" y="360.50" font-size="7.6" textLength="14.51" lengthAdjust="spacing" fill="#111" stroke="#111" stroke-width="0.18">Th9</text>
<text x="0" y="0" font-size="7.78" textLength="9.33" lengthAdjust="spacing" font-style="italic" fill="#111" transform="translate(452.60 326.37) rotate(-90) scale(1.0 1)" stroke="#111" stroke-width="0.18">Il9</text>
<text x="0" y="0" font-size="7.78" textLength="26.83" lengthAdjust="spacing" fill="#111" transform="translate(452.60 314.17) rotate(-90) scale(1.0 1)" stroke="#111" stroke-width="0.18">mRNA</text>
<text x="0" y="0" font-size="7.34" textLength="80.68" lengthAdjust="spacing" fill="#111" transform="translate(464.60 346.64) rotate(-90) scale(1.0 1)" stroke="#111" stroke-width="0.18">(relative expression)</text>
<line x1="495.20" y1="370.90" x2="495.20" y2="454.30" stroke="#777" stroke-width="0.9"/>
<line x1="493.20" y1="454.30" x2="495.20" y2="454.30" stroke="#777" stroke-width="0.9"/>
<text x="488.90" y="456.70" font-size="6.6" textLength="4.09" lengthAdjust="spacing" fill="#111" stroke-width="0.15" stroke="#111">0</text>
<line x1="493.20" y1="437.62" x2="495.20" y2="437.62" stroke="#777" stroke-width="0.9"/>
<text x="478.60" y="440.02" font-size="6.6" textLength="14.39" lengthAdjust="spacing" fill="#111" stroke-width="0.15" stroke="#111">500</text>
<line x1="493.20" y1="420.94" x2="495.20" y2="420.94" stroke="#777" stroke-width="0.9"/>
<text x="473.30" y="423.34" font-size="6.6" textLength="19.69" lengthAdjust="spacing" fill="#111" stroke-width="0.15" stroke="#111">1000</text>
<line x1="493.20" y1="404.26" x2="495.20" y2="404.26" stroke="#777" stroke-width="0.9"/>
<text x="473.30" y="406.66" font-size="6.6" textLength="19.69" lengthAdjust="spacing" fill="#111" stroke-width="0.15" stroke="#111">1500</text>
<line x1="493.20" y1="387.58" x2="495.20" y2="387.58" stroke="#777" stroke-width="0.9"/>
<text x="473.30" y="389.98" font-size="6.6" textLength="19.69" lengthAdjust="spacing" fill="#111" stroke-width="0.15" stroke="#111">2000</text>
<line x1="493.20" y1="370.90" x2="495.20" y2="370.90" stroke="#777" stroke-width="0.9"/>
<text x="473.30" y="373.30" font-size="6.6" textLength="19.69" lengthAdjust="spacing" fill="#111" stroke-width="0.15" stroke="#111">2500</text>
<line x1="495.20" y1="454.30" x2="559.50" y2="454.30" stroke="#777" stroke-width="0.9"/>
<line x1="511.30" y1="454.30" x2="511.30" y2="456.30" stroke="#777" stroke-width="0.9"/>
<line x1="543.70" y1="454.30" x2="543.70" y2="456.30" stroke="#777" stroke-width="0.9"/>
<rect x="501.25" y="454.35" width="9.60" height="-0.05" fill="#fff" stroke="#777" stroke-width="0.9"/>
<rect x="511.75" y="452.92" width="9.60" height="1.38" fill="#1fe61f" stroke="#3a3" stroke-width="0.9"/>
<rect x="534.05" y="399.04" width="9.20" height="55.26" fill="#fff" stroke="#777" stroke-width="0.9"/>
<rect x="544.15" y="447.08" width="10.00" height="7.22" fill="#1fe61f" stroke="#3a3" stroke-width="0.9"/>
<line x1="538.60" y1="388.40" x2="538.60" y2="408.20" stroke="#555" stroke-width="0.7"/>
<line x1="535.60" y1="388.40" x2="541.60" y2="388.40" stroke="#555" stroke-width="0.7"/>
<line x1="535.60" y1="408.20" x2="541.60" y2="408.20" stroke="#555" stroke-width="0.7"/>
<circle cx="502.20" cy="453.60" r="1.45" fill="#000"/>
<circle cx="505.70" cy="453.60" r="1.45" fill="#000"/>
<circle cx="509.20" cy="453.60" r="1.45" fill="#000"/>
<circle cx="513.40" cy="451.10" r="1.45" fill="#000"/>
<circle cx="517.40" cy="452.40" r="1.45" fill="#000"/>
<circle cx="520.40" cy="452.40" r="1.45" fill="#000"/>
<circle cx="538.50" cy="385.40" r="1.45" fill="#000"/>
<circle cx="538.50" cy="392.80" r="1.45" fill="#000"/>
<circle cx="538.50" cy="418.20" r="1.45" fill="#000"/>
<circle cx="546.00" cy="445.30" r="1.45" fill="#000"/>
<circle cx="549.50" cy="447.10" r="1.45" fill="#000"/>
<circle cx="553.00" cy="446.50" r="1.45" fill="#000"/>
<path d="M538.10,381.30 L538.10,379.30 L555.60,379.30 L555.60,381.30" stroke="#555" stroke-width="0.8" fill="none"/>
<path d="M541.00,374.02 L541.56,375.23 L542.88,375.39 L541.90,376.29 L542.16,377.60 L541.00,376.95 L539.84,377.60 L540.10,376.29 L539.12,375.39 L540.44,375.23 Z M546.40,374.02 L546.96,375.23 L548.28,375.39 L547.30,376.29 L547.56,377.60 L546.40,376.95 L545.24,377.60 L545.50,376.29 L544.52,375.39 L545.84,375.23 Z M551.80,374.02 L552.36,375.23 L553.68,375.39 L552.70,376.29 L552.96,377.60 L551.80,376.95 L550.64,377.60 L550.90,376.29 L549.92,375.39 L551.24,375.23 Z " fill="#111" stroke="#111" stroke-width="0.15" stroke-linejoin="round"/>
<text x="503.99" y="466.00" font-size="7.6" textLength="14.61" lengthAdjust="spacing" fill="#111" stroke="#111" stroke-width="0.18">Th0</text>
<text x="536.39" y="466.00" font-size="7.6" textLength="14.61" lengthAdjust="spacing" fill="#111" stroke="#111" stroke-width="0.18">Th9</text>
<text x="0" y="0" font-size="7.34" textLength="46.48" lengthAdjust="spacing" fill="#111" transform="translate(467.80 434.94) rotate(-90) scale(1.0 1)" stroke="#111" stroke-width="0.18">IL-9 (pg/ml)</text>
<rect x="559.40" y="400.40" width="9.00" height="6.20" fill="#fff" stroke="#888" stroke-width="0.9"/>
<rect x="559.40" y="413.20" width="9.00" height="6.20" fill="#1fe61f" stroke="#393" stroke-width="0.9"/>
<text x="573.04" y="406.30" font-size="7.6" textLength="14.01" lengthAdjust="spacing" fill="#111" stroke-width="0.25" stroke="#111">WT</text>
<text x="573.07" y="420.20" font-size="7.2" font-style="italic" textLength="84.36" lengthAdjust="spacing" fill="#111" stroke="#111" stroke-width="0.18">Egfr<tspan font-size="5.40" dy="-3.40">flox/flox</tspan><tspan dy="3.40"> X Cd4-cre</tspan></text>
<text x="2.60" y="483.30" font-size="14" fill="#000" stroke="#000" stroke-width="0.18">e</text>
<line x1="75.80" y1="499.60" x2="75.80" y2="621.50" stroke="#555" stroke-width="1"/>
<line x1="72.00" y1="621.50" x2="75.80" y2="621.50" stroke="#555" stroke-width="1"/>
<text x="63.74" y="625.30" font-size="9.4" textLength="5.73" lengthAdjust="spacing" fill="#111" stroke-width="0.15" stroke="#111">0</text>
<line x1="72.00" y1="591.02" x2="75.80" y2="591.02" stroke="#555" stroke-width="1"/>
<text x="44.34" y="594.82" font-size="9.4" textLength="25.13" lengthAdjust="spacing" fill="#111" stroke-width="0.15" stroke="#111">2000</text>
<line x1="72.00" y1="560.55" x2="75.80" y2="560.55" stroke="#555" stroke-width="1"/>
<text x="44.34" y="564.35" font-size="9.4" textLength="25.13" lengthAdjust="spacing" fill="#111" stroke-width="0.15" stroke="#111">4000</text>
<line x1="72.00" y1="530.08" x2="75.80" y2="530.08" stroke="#555" stroke-width="1"/>
<text x="44.34" y="533.88" font-size="9.4" textLength="25.13" lengthAdjust="spacing" fill="#111" stroke-width="0.15" stroke="#111">6000</text>
<line x1="72.00" y1="499.60" x2="75.80" y2="499.60" stroke="#555" stroke-width="1"/>
<text x="44.34" y="503.40" font-size="9.4" textLength="25.13" lengthAdjust="spacing" fill="#111" stroke-width="0.15" stroke="#111">8000</text>
<line x1="75.80" y1="621.50" x2="162.40" y2="621.50" stroke="#555" stroke-width="1"/>
<line x1="92.60" y1="621.50" x2="92.60" y2="624.70" stroke="#555" stroke-width="1"/>
<line x1="118.80" y1="621.50" x2="118.80" y2="624.70" stroke="#555" stroke-width="1"/>
<line x1="144.80" y1="621.50" x2="144.80" y2="624.70" stroke="#555" stroke-width="1"/>
<rect x="84.40" y="591.70" width="16.80" height="29.80" fill="#fff" stroke="#444" stroke-width="1.0"/>
<rect x="110.70" y="543.80" width="16.60" height="77.70" fill="#9b9ba0" stroke="#333" stroke-width="1.0"/>
<rect x="136.60" y="543.80" width="16.70" height="77.70" fill="#f1b57a" stroke="#444" stroke-width="1.0"/>
<line x1="92.60" y1="587.30" x2="92.60" y2="595.00" stroke="#444" stroke-width="0.8"/>
<line x1="88.10" y1="587.30" x2="97.10" y2="587.30" stroke="#444" stroke-width="0.8"/>
<line x1="88.10" y1="595.00" x2="97.10" y2="595.00" stroke="#444" stroke-width="0.8"/>
<line x1="118.80" y1="533.20" x2="118.80" y2="553.00" stroke="#444" stroke-width="0.8"/>
<line x1="114.40" y1="533.20" x2="123.20" y2="533.20" stroke="#444" stroke-width="0.8"/>
<line x1="114.40" y1="553.00" x2="123.20" y2="553.00" stroke="#444" stroke-width="0.8"/>
<line x1="144.80" y1="526.20" x2="144.80" y2="560.10" stroke="#444" stroke-width="0.8"/>
<line x1="140.40" y1="526.20" x2="149.20" y2="526.20" stroke="#444" stroke-width="0.8"/>
<line x1="140.40" y1="560.10" x2="149.20" y2="560.10" stroke="#444" stroke-width="0.8"/>
<circle cx="92.70" cy="583.40" r="1.8" fill="#000"/>
<circle cx="95.40" cy="593.90" r="1.8" fill="#000"/>
<circle cx="90.10" cy="597.80" r="1.8" fill="#000"/>
<rect x="117.10" y="520.90" width="3.6" height="3.6" fill="#000"/>
<rect x="114.30" y="552.70" width="3.6" height="3.6" fill="#000"/>
<rect x="119.60" y="551.30" width="3.6" height="3.6" fill="#000"/>
<circle cx="144.80" cy="512.20" r="1.8" fill="#000"/>
<circle cx="144.80" cy="547.20" r="1.8" fill="#000"/>
<circle cx="144.80" cy="570.20" r="1.8" fill="#000"/>
<path d="M91.30,497.90 L91.30,495.50 L145.60,495.50 L145.60,497.90" stroke="#444" stroke-width="0.9" fill="none"/>
<path d="M116.40,487.62 L117.14,489.24 L118.91,489.45 L117.61,490.66 L117.95,492.40 L116.40,491.53 L114.85,492.40 L115.19,490.66 L113.89,489.45 L115.66,489.24 Z " fill="#111" stroke="#111" stroke-width="0.15" stroke-linejoin="round"/>
<path d="M91.30,515.30 L91.30,512.70 L118.50,512.70 L118.50,515.30" stroke="#444" stroke-width="0.9" fill="none"/>
<path d="M104.30,506.02 L105.04,507.64 L106.81,507.85 L105.51,509.06 L105.85,510.80 L104.30,509.93 L102.75,510.80 L103.09,509.06 L101.79,507.85 L103.56,507.64 Z " fill="#111" stroke="#111" stroke-width="0.15" stroke-linejoin="round"/>
<text x="108.29" y="637.70" font-size="10.2" textLength="20.52" lengthAdjust="spacing" fill="#111" stroke="#111" stroke-width="0.18">Th9</text>
<text x="0" y="0" font-size="10.26" textLength="13.73" lengthAdjust="spacing" font-style="italic" fill="#111" transform="translate(22.80 588.52) rotate(-90) scale(1.0 1)" stroke="#111" stroke-width="0.18">Il9</text>
<text x="0" y="0" font-size="10.26" textLength="38.03" lengthAdjust="spacing" fill="#111" transform="translate(22.80 570.62) rotate(-90) scale(1.0 1)" stroke="#111" stroke-width="0.18">mRNA</text>
<text x="0" y="0" font-size="10.26" textLength="118.23" lengthAdjust="spacing" fill="#111" transform="translate(38.40 619.02) rotate(-90) scale(1.0 1)" stroke="#111" stroke-width="0.18">(relative expression)</text>
<line x1="235.50" y1="493.30" x2="235.50" y2="622.60" stroke="#555" stroke-width="1"/>
<line x1="232.00" y1="622.60" x2="235.50" y2="622.60" stroke="#555" stroke-width="1"/>
<text x="223.24" y="626.20" font-size="9.4" textLength="5.73" lengthAdjust="spacing" fill="#111" stroke-width="0.15" stroke="#111">0</text>
<line x1="232.00" y1="590.27" x2="235.50" y2="590.27" stroke="#555" stroke-width="1"/>
<text x="202.74" y="593.88" font-size="9.4" textLength="26.23" lengthAdjust="spacing" fill="#111" stroke-width="0.15" stroke="#111">2000</text>
<line x1="232.00" y1="557.95" x2="235.50" y2="557.95" stroke="#555" stroke-width="1"/>
<text x="202.74" y="561.55" font-size="9.4" textLength="26.23" lengthAdjust="spacing" fill="#111" stroke-width="0.15" stroke="#111">4000</text>
<line x1="232.00" y1="525.62" x2="235.50" y2="525.62" stroke="#555" stroke-width="1"/>
<text x="202.74" y="529.23" font-size="9.4" textLength="26.23" lengthAdjust="spacing" fill="#111" stroke-width="0.15" stroke="#111">6000</text>
<line x1="232.00" y1="493.30" x2="235.50" y2="493.30" stroke="#555" stroke-width="1"/>
<text x="202.74" y="496.90" font-size="9.4" textLength="26.23" lengthAdjust="spacing" fill="#111" stroke-width="0.15" stroke="#111">8000</text>
<line x1="235.50" y1="622.60" x2="316.30" y2="622.60" stroke="#555" stroke-width="1"/>
<line x1="251.00" y1="622.60" x2="251.00" y2="625.80" stroke="#555" stroke-width="1"/>
<line x1="275.30" y1="622.60" x2="275.30" y2="625.80" stroke="#555" stroke-width="1"/>
<line x1="299.50" y1="622.60" x2="299.50" y2="625.80" stroke="#555" stroke-width="1"/>
<rect x="243.30" y="590.80" width="15.50" height="31.80" fill="#fff" stroke="#444" stroke-width="1.0"/>
<rect x="267.70" y="568.80" width="15.30" height="53.80" fill="#9b9ba0" stroke="#333" stroke-width="1.0"/>
<rect x="291.90" y="546.20" width="15.30" height="76.40" fill="#f1b57a" stroke="#444" stroke-width="1.0"/>
<line x1="251.00" y1="586.40" x2="251.00" y2="594.00" stroke="#444" stroke-width="0.8"/>
<line x1="247.00" y1="586.40" x2="255.00" y2="586.40" stroke="#444" stroke-width="0.8"/>
<line x1="247.00" y1="594.00" x2="255.00" y2="594.00" stroke="#444" stroke-width="0.8"/>
<line x1="275.30" y1="554.30" x2="275.30" y2="582.40" stroke="#444" stroke-width="0.8"/>
<line x1="271.30" y1="554.30" x2="279.30" y2="554.30" stroke="#444" stroke-width="0.8"/>
<line x1="271.30" y1="582.40" x2="279.30" y2="582.40" stroke="#444" stroke-width="0.8"/>
<line x1="299.50" y1="528.00" x2="299.50" y2="563.30" stroke="#444" stroke-width="0.8"/>
<line x1="295.50" y1="528.00" x2="303.50" y2="528.00" stroke="#444" stroke-width="0.8"/>
<line x1="295.50" y1="563.30" x2="303.50" y2="563.30" stroke="#444" stroke-width="0.8"/>
<circle cx="250.60" cy="581.90" r="1.8" fill="#000"/>
<circle cx="248.00" cy="594.30" r="1.8" fill="#000"/>
<circle cx="253.80" cy="593.70" r="1.8" fill="#000"/>
<rect x="273.30" y="539.90" width="3.6" height="3.6" fill="#000"/>
<rect x="273.30" y="571.70" width="3.6" height="3.6" fill="#000"/>
<rect x="273.30" y="586.70" width="3.6" height="3.6" fill="#000"/>
<circle cx="299.30" cy="511.50" r="1.8" fill="#000"/>
<circle cx="299.30" cy="553.80" r="1.8" fill="#000"/>
<circle cx="299.30" cy="571.90" r="1.8" fill="#000"/>
<path d="M250.60,500.40 L250.60,497.80 L299.30,497.80 L299.30,500.40" stroke="#444" stroke-width="0.9" fill="none"/>
<path d="M273.50,488.32 L274.24,489.94 L276.01,490.15 L274.71,491.36 L275.05,493.10 L273.50,492.23 L271.95,493.10 L272.29,491.36 L270.99,490.15 L272.76,489.94 Z " fill="#111" stroke="#111" stroke-width="0.15" stroke-linejoin="round"/>
<path d="M250.60,531.20 L250.60,528.60 L274.30,528.60 L274.30,531.20" stroke="#444" stroke-width="0.9" fill="none"/>
<path d="M261.20,520.92 L261.94,522.54 L263.71,522.75 L262.41,523.96 L262.75,525.70 L261.20,524.83 L259.65,525.70 L259.99,523.96 L258.69,522.75 L260.46,522.54 Z " fill="#111" stroke="#111" stroke-width="0.15" stroke-linejoin="round"/>
<text x="264.54" y="639.40" font-size="10.2" textLength="20.52" lengthAdjust="spacing" fill="#111" stroke="#111" stroke-width="0.18">Th9</text>
<text x="0" y="0" font-size="10.26" textLength="24.93" lengthAdjust="spacing" font-style="italic" fill="#111" transform="translate(180.80 592.42) rotate(-90) scale(1.0 1)" stroke="#111" stroke-width="0.18">Egfr</text>
<text x="0" y="0" font-size="10.26" textLength="40.33" lengthAdjust="spacing" fill="#111" transform="translate(180.80 563.02) rotate(-90) scale(1.0 1)" stroke="#111" stroke-width="0.18">mRNA</text>
<text x="0" y="0" font-size="10.26" textLength="124.83" lengthAdjust="spacing" fill="#111" transform="translate(197.30 619.02) rotate(-90) scale(1.0 1)" stroke="#111" stroke-width="0.18">(relative expression)</text>
<text x="337.00" y="486.50" font-size="14" fill="#000" stroke="#000" stroke-width="0.18">f</text>
<line x1="377.30" y1="513.20" x2="377.30" y2="623.40" stroke="#555" stroke-width="1"/>
<line x1="374.30" y1="623.40" x2="377.30" y2="623.40" stroke="#555" stroke-width="1"/>
<text x="367.00" y="626.80" font-size="8.4" textLength="5.21" lengthAdjust="spacing" fill="#111" stroke-width="0.15" stroke="#111">0</text>
<line x1="374.30" y1="595.85" x2="377.30" y2="595.85" stroke="#555" stroke-width="1"/>
<text x="349.10" y="599.25" font-size="8.4" textLength="23.11" lengthAdjust="spacing" fill="#111" stroke-width="0.15" stroke="#111">1000</text>
<line x1="374.30" y1="568.30" x2="377.30" y2="568.30" stroke="#555" stroke-width="1"/>
<text x="349.10" y="571.70" font-size="8.4" textLength="23.11" lengthAdjust="spacing" fill="#111" stroke-width="0.15" stroke="#111">2000</text>
<line x1="374.30" y1="540.75" x2="377.30" y2="540.75" stroke="#555" stroke-width="1"/>
<text x="349.10" y="544.15" font-size="8.4" textLength="23.11" lengthAdjust="spacing" fill="#111" stroke-width="0.15" stroke="#111">3000</text>
<line x1="374.30" y1="513.20" x2="377.30" y2="513.20" stroke="#555" stroke-width="1"/>
<text x="349.10" y="516.60" font-size="8.4" textLength="23.11" lengthAdjust="spacing" fill="#111" stroke-width="0.15" stroke="#111">4000</text>
<line x1="377.30" y1="623.40" x2="466.10" y2="623.40" stroke="#555" stroke-width="1"/>
<line x1="394.60" y1="623.40" x2="394.60" y2="626.40" stroke="#555" stroke-width="1"/>
<line x1="421.50" y1="623.40" x2="421.50" y2="626.40" stroke="#555" stroke-width="1"/>
<line x1="448.40" y1="623.40" x2="448.40" y2="626.40" stroke="#555" stroke-width="1"/>
<rect x="386.00" y="597.80" width="17.20" height="25.60" fill="#fff" stroke="#444" stroke-width="1.0"/>
<rect x="413.00" y="530.70" width="17.10" height="92.70" fill="#9b9ba0" stroke="#333" stroke-width="1.0"/>
<rect x="439.90" y="561.90" width="17.10" height="61.50" fill="#f1b57a" stroke="#444" stroke-width="1.0"/>
<line x1="394.60" y1="593.30" x2="394.60" y2="601.00" stroke="#444" stroke-width="0.8"/>
<line x1="390.15" y1="593.30" x2="399.05" y2="593.30" stroke="#444" stroke-width="0.8"/>
<line x1="390.15" y1="601.00" x2="399.05" y2="601.00" stroke="#444" stroke-width="0.8"/>
<line x1="421.60" y1="522.00" x2="421.60" y2="536.40" stroke="#444" stroke-width="0.8"/>
<line x1="417.20" y1="522.00" x2="426.00" y2="522.00" stroke="#444" stroke-width="0.8"/>
<line x1="417.20" y1="536.40" x2="426.00" y2="536.40" stroke="#444" stroke-width="0.8"/>
<line x1="448.40" y1="559.40" x2="448.40" y2="563.40" stroke="#444" stroke-width="0.8"/>
<line x1="444.00" y1="559.40" x2="452.80" y2="559.40" stroke="#444" stroke-width="0.8"/>
<line x1="444.00" y1="563.40" x2="452.80" y2="563.40" stroke="#444" stroke-width="0.8"/>
<circle cx="394.70" cy="589.60" r="1.8" fill="#000"/>
<circle cx="392.20" cy="601.20" r="1.8" fill="#000"/>
<circle cx="397.10" cy="600.40" r="1.8" fill="#000"/>
<rect x="417.20" y="522.50" width="3.6" height="3.6" fill="#000"/>
<rect x="422.20" y="523.10" width="3.6" height="3.6" fill="#000"/>
<rect x="419.60" y="540.80" width="3.6" height="3.6" fill="#000"/>
<path d="M443.90,560.62 L447.50,560.62 L445.70,557.38 Z" fill="#000"/>
<path d="M449.20,561.92 L452.80,561.92 L451.00,558.68 Z" fill="#000"/>
<path d="M446.50,567.32 L450.10,567.32 L448.30,564.08 Z" fill="#000"/>
<path d="M393.10,497.60 L393.10,495.60 L448.20,495.60 L448.20,497.60" stroke="#333" stroke-width="1.0" fill="none"/>
<path d="M415.70,487.62 L416.38,489.10 L418.00,489.29 L416.80,490.40 L417.12,492.00 L415.70,491.20 L414.28,492.00 L414.60,490.40 L413.40,489.29 L415.02,489.10 Z M422.70,487.62 L423.38,489.10 L425.00,489.29 L423.80,490.40 L424.12,492.00 L422.70,491.20 L421.28,492.00 L421.60,490.40 L420.40,489.29 L422.02,489.10 Z " fill="#111" stroke="#111" stroke-width="0.15" stroke-linejoin="round"/>
<path d="M393.10,517.60 L393.10,515.60 L422.00,515.60 L422.00,517.60" stroke="#333" stroke-width="1.0" fill="none"/>
<path d="M396.45,507.52 L397.13,509.00 L398.75,509.19 L397.55,510.30 L397.87,511.90 L396.45,511.10 L395.03,511.90 L395.35,510.30 L394.15,509.19 L395.77,509.00 Z M403.35,507.52 L404.03,509.00 L405.65,509.19 L404.45,510.30 L404.77,511.90 L403.35,511.10 L401.93,511.90 L402.25,510.30 L401.05,509.19 L402.67,509.00 Z M410.25,507.52 L410.93,509.00 L412.55,509.19 L411.35,510.30 L411.67,511.90 L410.25,511.10 L408.83,511.90 L409.15,510.30 L407.95,509.19 L409.57,509.00 Z M417.15,507.52 L417.83,509.00 L419.45,509.19 L418.25,510.30 L418.57,511.90 L417.15,511.10 L415.73,511.90 L416.05,510.30 L414.85,509.19 L416.47,509.00 Z " fill="#111" stroke="#111" stroke-width="0.15" stroke-linejoin="round"/>
<text x="411.14" y="640.60" font-size="10.2" textLength="20.52" lengthAdjust="spacing" fill="#111" stroke="#111" stroke-width="0.18">Th9</text>
<text x="0" y="0" font-size="9.72" textLength="60.87" lengthAdjust="spacing" fill="#111" transform="translate(343.80 597.98) rotate(-90) scale(1.0 1)" stroke="#111" stroke-width="0.18">IL-9 (pg/ml)</text>
<rect x="464.70" y="534.70" width="13.50" height="7.60" fill="#fff" stroke="#444" stroke-width="1.0"/>
<rect x="464.70" y="549.00" width="13.50" height="7.80" fill="#9b9ba0" stroke="#333" stroke-width="1.0"/>
<rect x="464.70" y="564.30" width="13.50" height="7.40" fill="#f1b57a" stroke="#444" stroke-width="1.0"/>
<text x="482.21" y="542.90" font-size="9.8" textLength="18.78" lengthAdjust="spacing" fill="#111" stroke="#111" stroke-width="0.18">Th9</text>
<text x="481.11" y="557.60" font-size="9.8" textLength="58.18" lengthAdjust="spacing" fill="#111" stroke="#111" stroke-width="0.18">Th9 + IL-33</text>
<text x="481.11" y="572.50" font-size="9.8" textLength="61.48" lengthAdjust="spacing" fill="#111" stroke="#111" stroke-width="0.18">Th9 + TSLP</text>
<text x="2.00" y="664.60" font-size="14" fill="#000" stroke="#000" stroke-width="0.18">g</text>
<line x1="77.30" y1="674.20" x2="77.30" y2="787.00" stroke="#555" stroke-width="1"/>
<line x1="74.20" y1="787.00" x2="77.30" y2="787.00" stroke="#555" stroke-width="1"/>
<text x="66.28" y="790.50" font-size="8.6" textLength="5.43" lengthAdjust="spacing" fill="#111" stroke-width="0.15" stroke="#111">0</text>
<line x1="74.20" y1="758.80" x2="77.30" y2="758.80" stroke="#555" stroke-width="1"/>
<text x="45.08" y="762.30" font-size="8.6" textLength="26.63" lengthAdjust="spacing" fill="#111" stroke-width="0.15" stroke="#111">1000</text>
<line x1="74.20" y1="730.60" x2="77.30" y2="730.60" stroke="#555" stroke-width="1"/>
<text x="45.08" y="734.10" font-size="8.6" textLength="26.63" lengthAdjust="spacing" fill="#111" stroke-width="0.15" stroke="#111">2000</text>
<line x1="74.20" y1="702.40" x2="77.30" y2="702.40" stroke="#555" stroke-width="1"/>
<text x="45.08" y="705.90" font-size="8.6" textLength="26.63" lengthAdjust="spacing" fill="#111" stroke-width="0.15" stroke="#111">3000</text>
<line x1="74.20" y1="674.20" x2="77.30" y2="674.20" stroke="#555" stroke-width="1"/>
<text x="45.08" y="677.70" font-size="8.6" textLength="26.63" lengthAdjust="spacing" fill="#111" stroke-width="0.15" stroke="#111">4000</text>
<line x1="77.30" y1="787.00" x2="166.30" y2="787.00" stroke="#555" stroke-width="1"/>
<line x1="102.90" y1="787.00" x2="102.90" y2="789.80" stroke="#555" stroke-width="1"/>
<line x1="140.70" y1="787.00" x2="140.70" y2="789.80" stroke="#555" stroke-width="1"/>
<rect x="90.70" y="707.80" width="24.40" height="79.20" fill="#fff" stroke="#333" stroke-width="1.0"/>
<rect x="128.90" y="761.80" width="24.30" height="25.20" fill="#5555f3" stroke="#222" stroke-width="1.0"/>
<line x1="102.90" y1="700.90" x2="102.90" y2="714.20" stroke="#777" stroke-width="0.8"/>
<line x1="96.65" y1="700.90" x2="109.15" y2="700.90" stroke="#777" stroke-width="0.8"/>
<line x1="96.65" y1="714.20" x2="109.15" y2="714.20" stroke="#777" stroke-width="0.8"/>
<circle cx="102.90" cy="694.00" r="1.9" fill="#000"/>
<circle cx="99.90" cy="714.70" r="1.9" fill="#000"/>
<circle cx="105.70" cy="713.90" r="1.9" fill="#000"/>
<rect x="133.10" y="758.60" width="3.8" height="3.8" fill="#000"/>
<rect x="138.80" y="759.40" width="3.8" height="3.8" fill="#000"/>
<rect x="144.30" y="759.40" width="3.8" height="3.8" fill="#000"/>
<path d="M107.50,686.40 L107.50,684.10 L139.10,684.10 L139.10,686.40" stroke="#555" stroke-width="0.9" fill="none"/>
<path d="M118.20,675.32 L118.88,676.80 L120.50,676.99 L119.30,678.10 L119.62,679.70 L118.20,678.90 L116.78,679.70 L117.10,678.10 L115.90,676.99 L117.52,676.80 Z M126.60,675.32 L127.28,676.80 L128.90,676.99 L127.70,678.10 L128.02,679.70 L126.60,678.90 L125.18,679.70 L125.50,678.10 L124.30,676.99 L125.92,676.80 Z " fill="#111" stroke="#111" stroke-width="0.15" stroke-linejoin="round"/>
<text x="109.19" y="804.60" font-size="10.2" textLength="21.52" lengthAdjust="spacing" fill="#111" stroke-width="0.23" stroke="#111">Th9</text>
<text x="0" y="0" font-size="10.15" textLength="13.12" lengthAdjust="spacing" font-style="italic" fill="#111" transform="translate(22.40 756.51) rotate(-90) scale(1.0 1)" stroke="#111" stroke-width="0.18">Il9</text>
<text x="0" y="0" font-size="10.15" textLength="35.12" lengthAdjust="spacing" fill="#111" transform="translate(22.40 739.71) rotate(-90) scale(1.0 1)" stroke="#111" stroke-width="0.18">mRNA</text>
<text x="0" y="0" font-size="9.72" textLength="109.77" lengthAdjust="spacing" fill="#111" transform="translate(38.20 784.48) rotate(-90) scale(1.0 1)" stroke="#111" stroke-width="0.18">(relative expression)</text>
<line x1="232.40" y1="674.50" x2="232.40" y2="790.30" stroke="#555" stroke-width="1"/>
<line x1="229.10" y1="790.30" x2="232.40" y2="790.30" stroke="#555" stroke-width="1"/>
<text x="221.18" y="793.90" font-size="8.6" textLength="5.13" lengthAdjust="spacing" fill="#111" stroke-width="0.15" stroke="#111">0</text>
<line x1="229.10" y1="761.35" x2="232.40" y2="761.35" stroke="#555" stroke-width="1"/>
<text x="201.58" y="764.95" font-size="8.6" textLength="24.73" lengthAdjust="spacing" fill="#111" stroke-width="0.15" stroke="#111">1000</text>
<line x1="229.10" y1="732.40" x2="232.40" y2="732.40" stroke="#555" stroke-width="1"/>
<text x="201.58" y="736.00" font-size="8.6" textLength="24.73" lengthAdjust="spacing" fill="#111" stroke-width="0.15" stroke="#111">2000</text>
<line x1="229.10" y1="703.45" x2="232.40" y2="703.45" stroke="#555" stroke-width="1"/>
<text x="201.58" y="707.05" font-size="8.6" textLength="24.73" lengthAdjust="spacing" fill="#111" stroke-width="0.15" stroke="#111">3000</text>
<line x1="229.10" y1="674.50" x2="232.40" y2="674.50" stroke="#555" stroke-width="1"/>
<text x="201.58" y="678.10" font-size="8.6" textLength="24.73" lengthAdjust="spacing" fill="#111" stroke-width="0.15" stroke="#111">4000</text>
<line x1="232.40" y1="790.30" x2="325.50" y2="790.30" stroke="#555" stroke-width="1"/>
<line x1="258.70" y1="790.30" x2="258.70" y2="793.10" stroke="#555" stroke-width="1"/>
<line x1="298.80" y1="790.30" x2="298.80" y2="793.10" stroke="#555" stroke-width="1"/>
<rect x="245.80" y="702.90" width="25.60" height="87.40" fill="#fff" stroke="#333" stroke-width="1.0"/>
<rect x="286.10" y="765.80" width="25.80" height="24.50" fill="#5555f3" stroke="#222" stroke-width="1.0"/>
<line x1="258.80" y1="695.20" x2="258.80" y2="709.60" stroke="#444" stroke-width="0.8"/>
<line x1="252.55" y1="695.20" x2="265.05" y2="695.20" stroke="#444" stroke-width="0.8"/>
<line x1="252.55" y1="709.60" x2="265.05" y2="709.60" stroke="#444" stroke-width="0.8"/>
<circle cx="258.80" cy="689.90" r="1.9" fill="#000"/>
<circle cx="258.80" cy="702.50" r="1.9" fill="#000"/>
<circle cx="258.80" cy="714.60" r="1.9" fill="#000"/>
<rect x="291.70" y="762.20" width="3.6" height="3.6" fill="#000"/>
<rect x="296.90" y="764.30" width="3.6" height="3.6" fill="#000"/>
<rect x="302.20" y="763.00" width="3.6" height="3.6" fill="#000"/>
<path d="M259.30,683.00 L259.30,680.70 L294.30,680.70 L294.30,683.00" stroke="#555" stroke-width="0.9" fill="none"/>
<path d="M269.40,672.02 L270.08,673.50 L271.70,673.69 L270.50,674.80 L270.82,676.40 L269.40,675.60 L267.98,676.40 L268.30,674.80 L267.10,673.69 L268.72,673.50 Z M276.40,672.02 L277.08,673.50 L278.70,673.69 L277.50,674.80 L277.82,676.40 L276.40,675.60 L274.98,676.40 L275.30,674.80 L274.10,673.69 L275.72,673.50 Z M283.40,672.02 L284.08,673.50 L285.70,673.69 L284.50,674.80 L284.82,676.40 L283.40,675.60 L281.98,676.40 L282.30,674.80 L281.10,673.69 L282.72,673.50 Z " fill="#111" stroke="#111" stroke-width="0.15" stroke-linejoin="round"/>
<text x="267.44" y="808.20" font-size="10.2" textLength="21.52" lengthAdjust="spacing" fill="#111" stroke-width="0.23" stroke="#111">Th9</text>
<text x="0" y="0" font-size="10.15" textLength="21.92" lengthAdjust="spacing" font-style="italic" fill="#111" transform="translate(180.80 763.41) rotate(-90) scale(1.0 1)" stroke="#111" stroke-width="0.18">Egfr</text>
<text x="0" y="0" font-size="10.15" textLength="38.32" lengthAdjust="spacing" fill="#111" transform="translate(180.80 739.21) rotate(-90) scale(1.0 1)" stroke="#111" stroke-width="0.18">mRNA</text>
<text x="0" y="0" font-size="9.72" textLength="111.77" lengthAdjust="spacing" fill="#111" transform="translate(197.20 787.28) rotate(-90) scale(1.0 1)" stroke="#111" stroke-width="0.18">(relative expression)</text>
<line x1="368.60" y1="674.50" x2="368.60" y2="790.30" stroke="#555" stroke-width="1"/>
<line x1="365.20" y1="790.30" x2="368.60" y2="790.30" stroke="#555" stroke-width="1"/>
<text x="357.88" y="793.90" font-size="8.6" textLength="5.13" lengthAdjust="spacing" fill="#111" stroke-width="0.15" stroke="#111">0</text>
<line x1="365.20" y1="761.35" x2="368.60" y2="761.35" stroke="#555" stroke-width="1"/>
<text x="344.38" y="764.95" font-size="8.6" textLength="18.63" lengthAdjust="spacing" fill="#111" stroke-width="0.15" stroke="#111">200</text>
<line x1="365.20" y1="732.40" x2="368.60" y2="732.40" stroke="#555" stroke-width="1"/>
<text x="344.38" y="736.00" font-size="8.6" textLength="18.63" lengthAdjust="spacing" fill="#111" stroke-width="0.15" stroke="#111">400</text>
<line x1="365.20" y1="703.45" x2="368.60" y2="703.45" stroke="#555" stroke-width="1"/>
<text x="344.38" y="707.05" font-size="8.6" textLength="18.63" lengthAdjust="spacing" fill="#111" stroke-width="0.15" stroke="#111">600</text>
<line x1="365.20" y1="674.50" x2="368.60" y2="674.50" stroke="#555" stroke-width="1"/>
<text x="344.38" y="678.10" font-size="8.6" textLength="18.63" lengthAdjust="spacing" fill="#111" stroke-width="0.15" stroke="#111">800</text>
<line x1="368.60" y1="790.30" x2="432.80" y2="790.30" stroke="#555" stroke-width="1"/>
<line x1="386.60" y1="790.30" x2="386.60" y2="793.10" stroke="#555" stroke-width="1"/>
<line x1="414.40" y1="790.30" x2="414.40" y2="793.10" stroke="#555" stroke-width="1"/>
<rect x="378.00" y="698.70" width="18.00" height="91.60" fill="#fff" stroke="#666" stroke-width="1.0"/>
<rect x="405.70" y="734.70" width="17.70" height="55.60" fill="#5555f3" stroke="#222" stroke-width="1.0"/>
<line x1="387.10" y1="693.90" x2="387.10" y2="703.60" stroke="#444" stroke-width="0.8"/>
<line x1="382.40" y1="693.90" x2="391.80" y2="693.90" stroke="#444" stroke-width="0.8"/>
<line x1="382.40" y1="703.60" x2="391.80" y2="703.60" stroke="#444" stroke-width="0.8"/>
<line x1="414.40" y1="727.30" x2="414.40" y2="745.00" stroke="#333" stroke-width="0.8"/>
<line x1="409.80" y1="727.30" x2="419.00" y2="727.30" stroke="#333" stroke-width="0.8"/>
<line x1="409.80" y1="745.00" x2="419.00" y2="745.00" stroke="#333" stroke-width="0.8"/>
<circle cx="383.90" cy="691.10" r="2.1" fill="#000"/>
<circle cx="389.60" cy="694.90" r="2.1" fill="#000"/>
<circle cx="387.00" cy="708.60" r="2.1" fill="#000"/>
<rect x="412.30" y="719.10" width="4.2" height="4.2" fill="#000"/>
<rect x="414.60" y="737.00" width="4.2" height="4.2" fill="#000"/>
<rect x="409.60" y="740.20" width="4.2" height="4.2" fill="#000"/>
<path d="M389.50,681.70 L389.50,679.40 L414.70,679.40 L414.70,681.70" stroke="#555" stroke-width="0.9" fill="none"/>
<path d="M401.70,671.22 L402.41,672.77 L404.11,672.97 L402.85,674.13 L403.19,675.80 L401.70,674.97 L400.21,675.80 L400.55,674.13 L399.29,672.97 L400.99,672.77 Z " fill="#111" stroke="#111" stroke-width="0.15" stroke-linejoin="round"/>
<text x="389.79" y="808.20" font-size="10.2" textLength="20.62" lengthAdjust="spacing" fill="#111" stroke-width="0.23" stroke="#111">Th9</text>
<text x="0" y="0" font-size="9.72" textLength="63.27" lengthAdjust="spacing" fill="#111" transform="translate(335.90 762.78) rotate(-90) scale(1.0 1)" stroke="#111" stroke-width="0.18">IL-9 (pg/ml)</text>
<rect x="432.50" y="703.30" width="15.80" height="8.00" fill="#fff" stroke="#666" stroke-width="1.0"/>
<rect x="432.50" y="719.10" width="15.80" height="8.00" fill="#5555f3" stroke="#333" stroke-width="1.0"/>
<text x="454.81" y="711.60" font-size="9.8" textLength="19.68" lengthAdjust="spacing" fill="#111" stroke-width="0.25" stroke="#111">WT</text>
<text x="453.21" y="728.00" font-size="9.8" font-style="italic" textLength="39.38" lengthAdjust="spacing" fill="#111" stroke-width="0.23" stroke="#111">Nos2<tspan font-size="7.2" dy="-4.6">-/-</tspan></text>
<text x="6.60" y="843.90" font-size="14" fill="#000" stroke="#000" stroke-width="0.18">h</text>
<text x="106.68" y="839.10" font-size="8.6" textLength="17.13" lengthAdjust="spacing" fill="#111" stroke="#111" stroke-width="0.18">Th9</text>
<line x1="71.70" y1="859.20" x2="71.70" y2="956.40" stroke="#555" stroke-width="1"/>
<line x1="68.70" y1="956.40" x2="71.70" y2="956.40" stroke="#555" stroke-width="1"/>
<text x="61.62" y="959.50" font-size="8.0" textLength="4.66" lengthAdjust="spacing" fill="#111" stroke-width="0.15" stroke="#111">0</text>
<line x1="68.70" y1="932.10" x2="71.70" y2="932.10" stroke="#555" stroke-width="1"/>
<text x="45.32" y="935.20" font-size="8.0" textLength="20.96" lengthAdjust="spacing" fill="#111" stroke-width="0.15" stroke="#111">2000</text>
<line x1="68.70" y1="907.80" x2="71.70" y2="907.80" stroke="#555" stroke-width="1"/>
<text x="45.32" y="910.90" font-size="8.0" textLength="20.96" lengthAdjust="spacing" fill="#111" stroke-width="0.15" stroke="#111">4000</text>
<line x1="68.70" y1="883.50" x2="71.70" y2="883.50" stroke="#555" stroke-width="1"/>
<text x="45.32" y="886.60" font-size="8.0" textLength="20.96" lengthAdjust="spacing" fill="#111" stroke-width="0.15" stroke="#111">6000</text>
<line x1="68.70" y1="859.20" x2="71.70" y2="859.20" stroke="#555" stroke-width="1"/>
<text x="45.32" y="862.30" font-size="8.0" textLength="20.96" lengthAdjust="spacing" fill="#111" stroke-width="0.15" stroke="#111">8000</text>
<line x1="71.70" y1="956.40" x2="167.50" y2="956.40" stroke="#555" stroke-width="1"/>
<line x1="94.50" y1="956.40" x2="94.50" y2="958.60" stroke="#555" stroke-width="1"/>
<line x1="143.40" y1="956.40" x2="143.40" y2="958.60" stroke="#555" stroke-width="1"/>
<rect x="79.00" y="926.60" width="15.00" height="29.80" fill="#fff" stroke="#888" stroke-width="1.0"/>
<rect x="95.00" y="950.00" width="15.40" height="6.40" fill="#1fe61f" stroke="#333" stroke-width="1.0"/>
<rect x="127.70" y="880.40" width="15.20" height="76.00" fill="#fff" stroke="#888" stroke-width="1.0"/>
<rect x="143.90" y="926.90" width="15.10" height="29.50" fill="#1fe61f" stroke="#333" stroke-width="1.0"/>
<line x1="135.30" y1="870.20" x2="135.30" y2="889.60" stroke="#777" stroke-width="0.8"/>
<line x1="131.80" y1="870.20" x2="138.80" y2="870.20" stroke="#777" stroke-width="0.8"/>
<line x1="131.80" y1="889.60" x2="138.80" y2="889.60" stroke="#777" stroke-width="0.8"/>
<circle cx="82.40" cy="924.70" r="1.6" fill="#000"/>
<circle cx="86.80" cy="927.60" r="1.6" fill="#000"/>
<circle cx="91.20" cy="925.10" r="1.6" fill="#000"/>
<circle cx="98.80" cy="948.30" r="1.6" fill="#000"/>
<circle cx="103.30" cy="950.20" r="1.6" fill="#000"/>
<circle cx="107.70" cy="949.20" r="1.6" fill="#000"/>
<circle cx="135.30" cy="863.40" r="1.6" fill="#000"/>
<circle cx="135.30" cy="878.70" r="1.6" fill="#000"/>
<circle cx="135.30" cy="897.70" r="1.6" fill="#000"/>
<rect x="147.80" y="920.70" width="3.0" height="3.0" fill="#000"/>
<rect x="152.00" y="923.90" width="3.0" height="3.0" fill="#000"/>
<rect x="150.00" y="930.00" width="3.0" height="3.0" fill="#000"/>
<path d="M86.40,917.40 L86.40,915.20 L103.90,915.20 L103.90,917.40" stroke="#555" stroke-width="0.9" fill="none"/>
<path d="M94.50,909.12 L95.12,910.47 L96.59,910.64 L95.50,911.65 L95.79,913.10 L94.50,912.38 L93.21,913.10 L93.50,911.65 L92.41,910.64 L93.88,910.47 Z " fill="#111" stroke="#111" stroke-width="0.15" stroke-linejoin="round"/>
<path d="M131.30,858.70 L131.30,856.50 L154.70,856.50 L154.70,858.70" stroke="#555" stroke-width="0.9" fill="none"/>
<path d="M136.10,849.42 L136.72,850.77 L138.19,850.94 L137.10,851.95 L137.39,853.40 L136.10,852.68 L134.81,853.40 L135.10,851.95 L134.01,850.94 L135.48,850.77 Z M142.30,849.42 L142.92,850.77 L144.39,850.94 L143.30,851.95 L143.59,853.40 L142.30,852.68 L141.01,853.40 L141.30,851.95 L140.21,850.94 L141.68,850.77 Z M148.50,849.42 L149.12,850.77 L150.59,850.94 L149.50,851.95 L149.79,853.40 L148.50,852.68 L147.21,853.40 L147.50,851.95 L146.41,850.94 L147.88,850.77 Z " fill="#111" stroke="#111" stroke-width="0.15" stroke-linejoin="round"/>
<text x="80.50" y="969.70" font-size="8.4" textLength="27.71" lengthAdjust="spacing" fill="#111" stroke="#111" stroke-width="0.18">-IL-33</text>
<text x="127.90" y="969.70" font-size="8.4" textLength="29.91" lengthAdjust="spacing" fill="#111" stroke="#111" stroke-width="0.18">+IL-33</text>
<text x="0" y="0" font-size="8.86" textLength="10.86" lengthAdjust="spacing" font-style="italic" fill="#111" transform="translate(27.90 929.53) rotate(-90) scale(1.0 1)" stroke="#111" stroke-width="0.18">Il9</text>
<text x="0" y="0" font-size="8.86" textLength="30.16" lengthAdjust="spacing" fill="#111" transform="translate(27.90 915.53) rotate(-90) scale(1.0 1)" stroke="#111" stroke-width="0.18">mRNA</text>
<text x="0" y="0" font-size="8.64" textLength="93.44" lengthAdjust="spacing" fill="#111" transform="translate(41.30 953.92) rotate(-90) scale(1.0 1)" stroke="#111" stroke-width="0.18">(relative expression)</text>
<text x="243.42" y="841.20" font-size="8.8" textLength="17.16" lengthAdjust="spacing" fill="#111" stroke-width="0.25" stroke="#111">Th9</text>
<line x1="209.10" y1="863.60" x2="209.10" y2="956.30" stroke="#555" stroke-width="1"/>
<line x1="206.40" y1="956.30" x2="209.10" y2="956.30" stroke="#555" stroke-width="1"/>
<text x="199.92" y="959.40" font-size="8.0" textLength="4.66" lengthAdjust="spacing" fill="#111" stroke-width="0.22" stroke="#111">0</text>
<line x1="206.40" y1="933.12" x2="209.10" y2="933.12" stroke="#555" stroke-width="1"/>
<text x="184.12" y="936.23" font-size="8.0" textLength="20.46" lengthAdjust="spacing" fill="#111" stroke-width="0.22" stroke="#111">1000</text>
<line x1="206.40" y1="909.95" x2="209.10" y2="909.95" stroke="#555" stroke-width="1"/>
<text x="184.12" y="913.05" font-size="8.0" textLength="20.46" lengthAdjust="spacing" fill="#111" stroke-width="0.22" stroke="#111">2000</text>
<line x1="206.40" y1="886.77" x2="209.10" y2="886.77" stroke="#555" stroke-width="1"/>
<text x="184.12" y="889.88" font-size="8.0" textLength="20.46" lengthAdjust="spacing" fill="#111" stroke-width="0.22" stroke="#111">3000</text>
<line x1="206.40" y1="863.60" x2="209.10" y2="863.60" stroke="#555" stroke-width="1"/>
<text x="184.12" y="866.70" font-size="8.0" textLength="20.46" lengthAdjust="spacing" fill="#111" stroke-width="0.22" stroke="#111">4000</text>
<line x1="209.10" y1="956.30" x2="296.30" y2="956.30" stroke="#555" stroke-width="1"/>
<line x1="230.20" y1="956.30" x2="230.20" y2="958.50" stroke="#555" stroke-width="1"/>
<line x1="274.20" y1="956.30" x2="274.20" y2="958.50" stroke="#555" stroke-width="1"/>
<rect x="216.90" y="918.20" width="12.60" height="38.10" fill="#fff" stroke="#888" stroke-width="1.0"/>
<rect x="230.50" y="951.80" width="13.90" height="4.50" fill="#5fbf3f" stroke="#333" stroke-width="1.0"/>
<rect x="260.70" y="877.90" width="13.00" height="78.40" fill="#fff" stroke="#888" stroke-width="1.0"/>
<rect x="274.70" y="943.20" width="14.00" height="13.10" fill="#5fbf3f" stroke="#333" stroke-width="1.0"/>
<line x1="223.10" y1="910.60" x2="223.10" y2="924.40" stroke="#555" stroke-width="0.8"/>
<line x1="219.60" y1="910.60" x2="226.60" y2="910.60" stroke="#555" stroke-width="0.8"/>
<line x1="219.60" y1="924.40" x2="226.60" y2="924.40" stroke="#555" stroke-width="0.8"/>
<line x1="267.10" y1="871.10" x2="267.10" y2="883.20" stroke="#555" stroke-width="0.8"/>
<line x1="263.85" y1="871.10" x2="270.35" y2="871.10" stroke="#555" stroke-width="0.8"/>
<line x1="263.85" y1="883.20" x2="270.35" y2="883.20" stroke="#555" stroke-width="0.8"/>
<circle cx="223.10" cy="908.50" r="1.6" fill="#000"/>
<circle cx="223.10" cy="913.90" r="1.6" fill="#000"/>
<circle cx="223.10" cy="931.30" r="1.6" fill="#000"/>
<circle cx="233.50" cy="950.10" r="1.6" fill="#000"/>
<circle cx="238.10" cy="951.70" r="1.6" fill="#000"/>
<circle cx="242.50" cy="950.80" r="1.6" fill="#000"/>
<circle cx="267.10" cy="868.20" r="1.6" fill="#000"/>
<circle cx="267.10" cy="874.90" r="1.6" fill="#000"/>
<circle cx="267.10" cy="888.50" r="1.6" fill="#000"/>
<circle cx="282.00" cy="939.40" r="1.6" fill="#000"/>
<circle cx="284.20" cy="942.30" r="1.6" fill="#000"/>
<circle cx="280.20" cy="945.80" r="1.6" fill="#000"/>
<path d="M220.30,904.50 L220.30,902.30 L237.40,902.30 L237.40,904.50" stroke="#555" stroke-width="0.9" fill="none"/>
<path d="M224.30,895.12 L224.92,896.47 L226.39,896.64 L225.30,897.65 L225.59,899.10 L224.30,898.38 L223.01,899.10 L223.30,897.65 L222.21,896.64 L223.68,896.47 Z M231.10,895.12 L231.72,896.47 L233.19,896.64 L232.10,897.65 L232.39,899.10 L231.10,898.38 L229.81,899.10 L230.10,897.65 L229.01,896.64 L230.48,896.47 Z " fill="#111" stroke="#111" stroke-width="0.15" stroke-linejoin="round"/>
<path d="M262.80,865.70 L262.80,863.50 L282.70,863.50 L282.70,865.70" stroke="#555" stroke-width="0.9" fill="none"/>
<path d="M262.50,856.52 L263.13,857.87 L264.60,858.04 L263.51,859.05 L263.80,860.50 L262.50,859.78 L261.21,860.50 L261.50,859.05 L260.41,858.04 L261.88,857.87 Z M268.53,856.52 L269.16,857.87 L270.63,858.04 L269.54,859.05 L269.83,860.50 L268.53,859.78 L267.24,860.50 L267.53,859.05 L266.44,858.04 L267.91,857.87 Z M274.56,856.52 L275.19,857.87 L276.66,858.04 L275.57,859.05 L275.86,860.50 L274.56,859.78 L273.27,860.50 L273.56,859.05 L272.47,858.04 L273.94,857.87 Z M280.59,856.52 L281.22,857.87 L282.69,858.04 L281.60,859.05 L281.89,860.50 L280.59,859.78 L279.30,860.50 L279.59,859.05 L278.50,858.04 L279.97,857.87 Z " fill="#111" stroke="#111" stroke-width="0.15" stroke-linejoin="round"/>
<text x="216.57" y="969.10" font-size="8.8" textLength="26.76" lengthAdjust="spacing" fill="#111" stroke-width="0.23" stroke="#111">-IL-33</text>
<text x="259.67" y="969.10" font-size="8.8" textLength="29.06" lengthAdjust="spacing" fill="#111" stroke-width="0.23" stroke="#111">+IL-33</text>
<text x="0" y="0" font-size="8.64" textLength="50.84" lengthAdjust="spacing" fill="#111" transform="translate(176.10 934.02) rotate(-90) scale(1.0 1)" stroke-width="0.25" stroke="#111">IL-9 (pg/ml)</text>
<rect x="294.80" y="883.40" width="10.20" height="7.60" fill="#fff" stroke="#777" stroke-width="1.0"/>
<rect x="294.80" y="897.60" width="10.20" height="8.00" fill="#5fbf3f" stroke="#333" stroke-width="1.0"/>
<text x="310.30" y="891.20" font-size="8.4" textLength="15.21" lengthAdjust="spacing" fill="#111" stroke-width="0.28" stroke="#111">WT</text>
<text x="310.28" y="906.60" font-size="8.6" font-style="italic" textLength="93.63" lengthAdjust="spacing" fill="#111" stroke-width="0.25" stroke="#111">Egfr<tspan font-size="5.6" dy="-3.6">flox/flox</tspan><tspan dy="3.6"> X Cd4-cre</tspan></text>
<text x="421.20" y="846.50" font-size="14" fill="#000" stroke="#000" stroke-width="0.18">i</text>
<line x1="481.20" y1="853.90" x2="481.20" y2="961.40" stroke="#555" stroke-width="1"/>
<line x1="478.30" y1="961.40" x2="481.20" y2="961.40" stroke="#555" stroke-width="1"/>
<text x="471.22" y="965.10" font-size="8.0" textLength="4.96" lengthAdjust="spacing" fill="#111" font-weight="bold" stroke-width="0.05" stroke="#111">0</text>
<line x1="478.30" y1="939.90" x2="481.20" y2="939.90" stroke="#555" stroke-width="1"/>
<text x="458.62" y="943.60" font-size="8.0" textLength="17.56" lengthAdjust="spacing" fill="#111" font-weight="bold" stroke-width="0.05" stroke="#111">200</text>
<line x1="478.30" y1="918.40" x2="481.20" y2="918.40" stroke="#555" stroke-width="1"/>
<text x="458.62" y="922.10" font-size="8.0" textLength="17.56" lengthAdjust="spacing" fill="#111" font-weight="bold" stroke-width="0.05" stroke="#111">400</text>
<line x1="478.30" y1="896.90" x2="481.20" y2="896.90" stroke="#555" stroke-width="1"/>
<text x="458.62" y="900.60" font-size="8.0" textLength="17.56" lengthAdjust="spacing" fill="#111" font-weight="bold" stroke-width="0.05" stroke="#111">600</text>
<line x1="478.30" y1="875.40" x2="481.20" y2="875.40" stroke="#555" stroke-width="1"/>
<text x="458.62" y="879.10" font-size="8.0" textLength="17.56" lengthAdjust="spacing" fill="#111" font-weight="bold" stroke-width="0.05" stroke="#111">800</text>
<line x1="478.30" y1="853.90" x2="481.20" y2="853.90" stroke="#555" stroke-width="1"/>
<text x="453.32" y="857.60" font-size="8.0" textLength="22.86" lengthAdjust="spacing" fill="#111" font-weight="bold" stroke-width="0.05" stroke="#111">1000</text>
<line x1="481.20" y1="961.40" x2="556.30" y2="961.40" stroke="#555" stroke-width="1"/>
<line x1="502.70" y1="961.40" x2="502.70" y2="964.40" stroke="#555" stroke-width="1"/>
<line x1="535.00" y1="961.40" x2="535.00" y2="964.40" stroke="#555" stroke-width="1"/>
<rect x="492.70" y="884.20" width="20.60" height="77.20" fill="#fff" stroke="#555" stroke-width="1.0"/>
<rect x="525.10" y="884.20" width="20.30" height="77.20" fill="#5fbf3f" stroke="#2a5a1a" stroke-width="1.0"/>
<line x1="503.00" y1="879.40" x2="503.00" y2="888.00" stroke="#888" stroke-width="0.8"/>
<line x1="498.15" y1="879.40" x2="507.85" y2="879.40" stroke="#888" stroke-width="0.8"/>
<line x1="498.15" y1="888.00" x2="507.85" y2="888.00" stroke="#888" stroke-width="0.8"/>
<line x1="535.00" y1="874.00" x2="535.00" y2="893.40" stroke="#999" stroke-width="0.8"/>
<line x1="530.00" y1="874.00" x2="540.00" y2="874.00" stroke="#999" stroke-width="0.8"/>
<line x1="530.00" y1="893.40" x2="540.00" y2="893.40" stroke="#999" stroke-width="0.8"/>
<circle cx="503.00" cy="874.90" r="2.2" fill="#000"/>
<circle cx="500.40" cy="888.60" r="2.2" fill="#000"/>
<circle cx="505.30" cy="887.90" r="2.2" fill="#000"/>
<rect x="533.00" y="863.80" width="4.0" height="4.0" fill="#000"/>
<rect x="533.00" y="883.90" width="4.0" height="4.0" fill="#000"/>
<rect x="533.00" y="897.30" width="4.0" height="4.0" fill="#000"/>
<path d="M501.20,858.60 L501.20,856.30 L535.40,856.30 L535.40,858.60" stroke="#555" stroke-width="0.9" fill="none"/>
<text x="510.32" y="850.90" font-size="9.6" textLength="14.25" lengthAdjust="spacing" fill="#111" font-weight="bold" stroke-width="0.05" stroke="#111">ns</text>
<text x="508.85" y="979.00" font-size="9.2" textLength="18.90" lengthAdjust="spacing" fill="#111" font-weight="bold" stroke-width="0.05" stroke="#111">Th9</text>
<text x="0" y="0" font-size="9.29" textLength="23.91" lengthAdjust="spacing" font-style="italic" fill="#111" transform="translate(432.70 937.16) rotate(-90) scale(1.0 1)" font-weight="bold" stroke-width="0.05" stroke="#111">Il33r</text>
<text x="0" y="0" font-size="9.29" textLength="34.31" lengthAdjust="spacing" fill="#111" transform="translate(432.70 912.16) rotate(-90) scale(1.0 1)" font-weight="bold" stroke-width="0.05" stroke="#111">mRNA</text>
<text x="0" y="0" font-size="9.07" textLength="103.19" lengthAdjust="spacing" fill="#111" transform="translate(447.20 958.54) rotate(-90) scale(1.0 1)" font-weight="bold" stroke-width="0.05" stroke="#111">(relative expression)</text>
<rect x="558.80" y="886.30" width="12.00" height="8.50" fill="#fff" stroke="#777" stroke-width="1.0"/>
<rect x="558.80" y="903.10" width="12.00" height="8.80" fill="#5fbf3f" stroke="#333" stroke-width="1.0"/>
<text x="577.46" y="895.10" font-size="9.0" textLength="18.38" lengthAdjust="spacing" fill="#111" font-weight="bold" stroke-width="0.05" stroke="#111">WT</text>
<text x="577.46" y="912.80" font-size="9.0" font-style="italic" textLength="104.18" lengthAdjust="spacing" fill="#111" stroke-width="0.23" stroke="#111">Egfr<tspan font-size="6.2" dy="-5.0">flox/flox</tspan><tspan dy="5.0">XCd4-cre</tspan></text>
</svg>
</body></html>
